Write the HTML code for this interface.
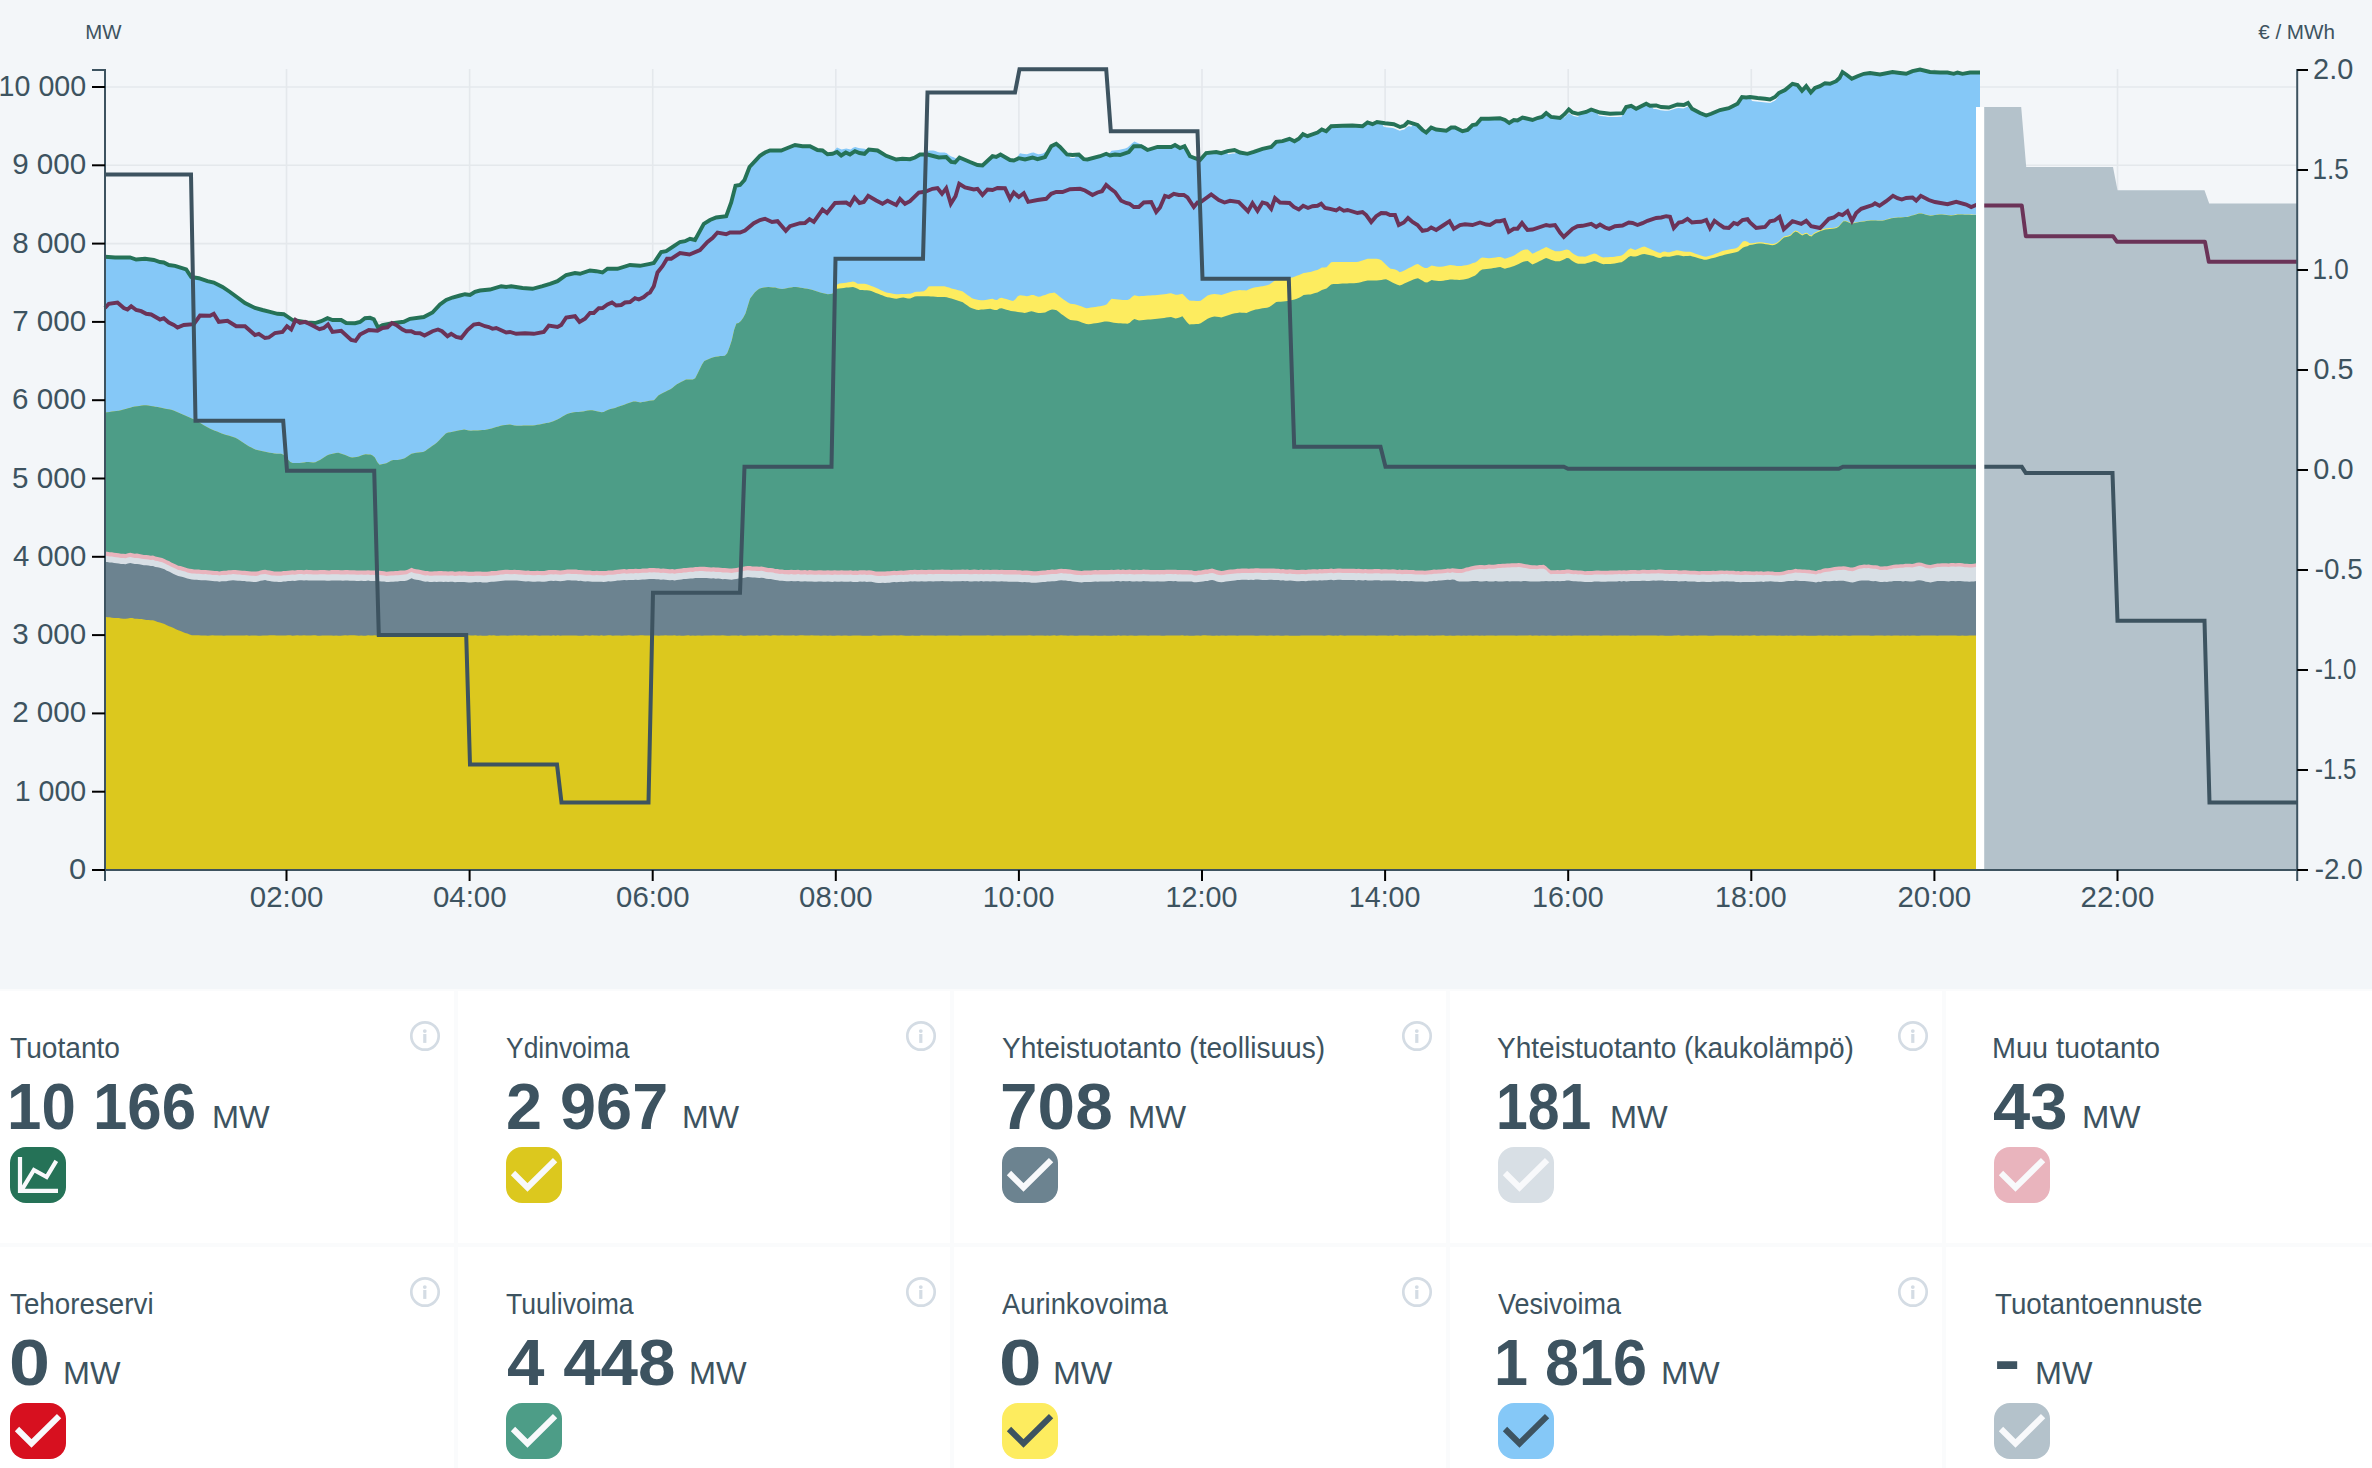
<!DOCTYPE html>
<html lang="fi"><head><meta charset="utf-8"><title>Tuotanto</title><style>
*{box-sizing:border-box;margin:0;padding:0}
html,body{width:2372px;height:1468px;overflow:hidden;background:#fff}
body{font-family:"Liberation Sans",sans-serif;color:#3d5360;position:relative}
.chart{position:absolute;left:0;top:0;display:block}
.tx{position:absolute;white-space:nowrap;line-height:1;transform-origin:0 0;color:#3d5360}
.lbl{font-size:28.7px}
.val{font-size:64.4px;font-weight:700}
.unit{font-size:31.2px}
.ico{position:absolute;width:56px;height:56px;border-radius:16px}
.ico svg,.info svg{display:block}
.info{position:absolute;width:34px;height:34px}
.vsep{position:absolute;top:989px;width:4px;height:479px;background:#fafbfc}
.hsep{position:absolute;left:0;width:2372px;height:4px;background:#fafbfc;top:1243px}
</style></head><body>
<svg class="chart" width="2372" height="989" viewBox="0 0 2372 989">
<rect width="2372" height="989" fill="#f3f6f9"/>
<g stroke="#e4e8ec" stroke-width="1.6" fill="none"><path d="M106,791.7 H2296"/><path d="M106,713.4 H2296"/><path d="M106,635.1 H2296"/><path d="M106,556.8 H2296"/><path d="M106,478.5 H2296"/><path d="M106,400.2 H2296"/><path d="M106,321.9 H2296"/><path d="M106,243.6 H2296"/><path d="M106,165.3 H2296"/><path d="M106,87 H2296"/><path d="M286.5,69 V869"/><path d="M469.6,69 V869"/><path d="M652.7,69 V869"/><path d="M835.8,69 V869"/><path d="M1018.9,69 V869"/><path d="M1202,69 V869"/><path d="M1385.1,69 V869"/><path d="M1568.2,69 V869"/><path d="M1751.3,69 V869"/><path d="M1934.4,69 V869"/><path d="M2117.5,69 V869"/></g>
<g>
<path d="M105,870L105,256.8L107.3,256.9L109.6,257.1L111.9,257.3L114.1,257.4L116.4,257.5L118.7,257.5L121,257.5L123.3,257.5L125.6,257.5L127.9,257.5L130.2,257.6L132.4,258.3L134.7,259L137,259.4L139.3,259.2L141.6,259L143.9,258.8L146.2,258.9L148.5,259.2L150.7,259.6L153,259.9L155.3,260.5L157.6,261.2L159.9,262L162.2,262.3L164.5,262.9L166.8,264L169,265L171.3,265.3L173.6,265.6L175.9,266.1L178.2,266.8L180.5,267.6L182.8,268.3L185.1,269.1L187.3,271.1L189.6,274.6L191.9,277.1L194.2,277.5L196.5,277.9L198.8,278.3L201.1,279L203.4,279.8L205.6,280.6L207.9,281.3L210.2,281.8L212.5,282.3L214.8,283L217.1,284.2L219.4,285.4L221.7,286.6L223.9,288L226.2,289.5L228.5,291L230.8,292.6L233.1,294.3L235.4,296L237.7,297.6L240,299.3L242.2,301L244.5,302.7L246.8,303.9L249.1,305.1L251.4,306.2L253.7,307.3L256,308.3L258.3,308.9L260.5,309.5L262.8,310.1L265.1,310.6L267.4,311.1L269.7,311.7L272,312.3L274.3,312.9L276.6,313.5L278.8,313.9L281.1,314L283.4,314.2L285.7,315.5L288,317L290.3,318.5L292.6,320L294.9,320.4L297.2,320.8L299.4,321.2L301.7,321.5L304,321.9L306.3,322.3L308.6,322.6L310.9,322.7L313.2,322.9L315.5,322.9L317.7,322.2L320,321.6L322.3,320.7L324.6,319.6L326.9,318.5L329.2,318.8L331.5,319.6L333.8,320L336,320L338.3,320L340.6,320L342.9,321L345.2,322.4L347.5,323L349.8,323.1L352.1,323.2L354.3,323.2L356.6,322.8L358.9,322.3L361.2,321.1L363.5,319.4L365.8,318.2L368.1,317.9L370.4,317.9L372.6,318.8L374.9,321.5L377.2,326L379.5,326.7L381.8,325.4L384.1,324.7L386.4,324.3L388.7,323.9L390.9,323.5L393.2,323.2L395.5,322.8L397.8,322.5L400.1,322.2L402.4,321.9L404.7,321.3L407,320.2L409.2,319.1L411.5,318.6L413.8,318.3L416.1,318L418.4,317.7L420.7,317.4L423,317.1L425.3,316.2L427.5,315.1L429.8,313.9L432.1,312.7L434.4,310.5L436.7,308L439,305.6L441.3,303.6L443.6,301.9L445.8,300.3L448.1,299.2L450.4,298.3L452.7,297.4L455,296.8L457.3,296.2L459.6,295.6L461.9,295L464.1,294.5L466.4,294.5L468.7,294.8L471,294.3L473.3,292.9L475.6,291.6L477.9,291L480.2,290.5L482.4,290.3L484.7,290L487,289.8L489.3,289.6L491.6,289L493.9,288.4L496.2,287.7L498.5,287.1L500.7,286.4L503,286.5L505.3,286.9L507.6,286.8L509.9,286.5L512.2,286.4L514.5,286.7L516.8,287.1L519,287.5L521.3,287.8L523.6,288.1L525.9,288.3L528.2,288.4L530.5,288.6L532.8,288.7L535.1,288.1L537.3,287.5L539.6,287L541.9,286.4L544.2,285.7L546.5,284.9L548.8,284.2L551.1,283.4L553.4,282.6L555.6,281.9L557.9,280.9L560.2,279.3L562.5,277.7L564.8,276L567.1,274.8L569.4,274.3L571.7,273.8L573.9,273.2L576.2,273.2L578.5,273.5L580.8,273.5L583.1,272.7L585.4,272L587.7,271.3L590,270.5L592.2,270.8L594.5,271L596.8,271.4L599.1,271.8L601.4,272.3L603.7,271.6L606,269.9L608.3,268.8L610.5,268.8L612.8,268.8L615.1,268.8L617.4,268.8L619.7,268.1L622,267.4L624.3,266.7L626.6,266L628.8,265.3L631.1,265.1L633.4,265.3L635.7,265.4L638,265.6L640.3,265.7L642.6,265.2L644.9,264.8L647.1,264.3L649.4,263.9L651.7,263.4L654,262.6L656.3,259.3L658.6,255.9L660.9,252.6L663.2,251.7L665.4,251.4L667.7,250.3L670,248.7L672.3,247.2L674.6,245.7L676.9,244.1L679.2,242.6L681.5,241.8L683.7,241.4L686,240.7L688.3,239.6L690.6,238.9L692.9,239.5L695.2,239.7L697.5,235.4L699.8,231.2L702,226.9L704.3,223.4L706.6,222L708.9,220.7L711.2,219.5L713.5,218.6L715.8,217.7L718.1,217.3L720.3,217L722.6,216.7L724.9,216.4L727.2,213.6L729.5,207.3L731.8,200.4L734.1,191.4L736.4,185.6L738.6,185.2L740.9,184L743.2,181.4L745.5,177.4L747.8,171.5L750.1,166.4L752.4,164L754.7,161.6L756.9,159.1L759.2,156.6L761.5,154.8L763.8,153.3L766.1,152.1L768.4,151.1L770.7,150.5L773,150.5L775.2,150.5L777.5,150.5L779.8,150.5L782.1,150.2L784.4,149.2L786.7,148.3L789,147.4L791.3,146.5L793.5,145.6L795.8,145.1L798.1,145.5L800.4,145.9L802.7,146.2L805,146.2L807.3,146.2L809.6,146.2L811.8,147.2L814.1,148.3L816.4,149.5L818.7,150.1L821,150.3L823.3,151.1L825.6,152.8L827.9,154.2L830.1,154L832.4,153.8L834.7,150.1L837,147.6L839.3,148.5L841.6,149.4L843.9,148.9L846.2,148.5L848.4,148.9L850.7,149.4L853,147.8L855.3,147.1L857.6,147.8L859.9,148.3L862.2,148.5L864.5,148.7L866.7,149.6L869,149.5L871.3,149.8L873.6,150.1L875.9,150.3L878.2,150.9L880.5,152.3L882.8,153.7L885,155L887.3,156.2L889.6,157L891.9,157.9L894.2,158.7L896.5,159.5L898.8,159.2L901.1,158.9L903.3,158.8L905.6,159L907.9,159.1L910.2,159.2L912.5,158.4L914.8,157.6L917.1,156.3L919.4,154.9L921.6,154.5L923.9,154.5L926.2,154.5L928.5,150.4L930.8,150.4L933.1,150.4L935.4,151.1L937.7,151.9L939.9,152.4L942.2,152.5L944.5,152.6L946.8,153.3L949.1,155.3L951.4,156.4L953.7,157.3L956,158.6L958.2,158.9L960.5,157.9L962.8,158.9L965.1,159.9L967.4,160.9L969.7,161.9L972,162.8L974.3,163.7L976.5,164.6L978.8,165.1L981.1,165.4L983.4,164.7L985.7,162.6L988,160.4L990.3,158.3L992.6,156.3L994.8,156.7L997.1,156.5L999.4,155.1L1001.7,155.2L1004,156.5L1006.3,157.8L1008.6,159.2L1010.9,160.1L1013.1,160.4L1015.4,159.7L1017.7,156.4L1020,153.3L1022.3,153.7L1024.6,154.1L1026.9,154.3L1029.2,153.5L1031.4,152.8L1033.7,152.6L1036,153.6L1038.3,154.3L1040.6,153.9L1042.9,153.4L1045.2,152L1047.5,151.2L1049.7,148.9L1052,145.9L1054.3,144.7L1056.6,144.1L1058.9,146L1061.2,148.3L1063.5,150.7L1065.8,153.2L1068,154.6L1070.3,157.8L1072.6,158L1074.9,157.8L1077.2,154.6L1079.5,155.2L1081.8,157.4L1084.1,159.3L1086.3,159.4L1088.6,159.2L1090.9,158.6L1093.2,158L1095.5,157.4L1097.8,156.8L1100.1,156.2L1102.4,155.3L1104.6,154.4L1106.9,154.1L1109.2,153.5L1111.5,150.7L1113.8,150.5L1116.1,150.3L1118.4,150.1L1120.7,149.6L1122.9,149L1125.2,148.4L1127.5,147.4L1129.8,145.5L1132.1,143.2L1134.4,141.4L1136.7,142.4L1139,143.4L1141.2,144.5L1143.5,145.4L1145.8,146.4L1148.1,149.8L1150.4,149.1L1152.7,148.4L1155,147.8L1157.3,147.1L1159.5,147L1161.8,147L1164.1,147L1166.4,147L1168.7,147L1171,147L1173.3,145.9L1175.6,145.3L1177.8,146.7L1180.1,148L1182.4,147.1L1184.7,146.6L1187,150.8L1189.3,154.9L1191.6,156.9L1193.9,157.8L1196.1,158.6L1198.4,159.4L1200.7,159.2L1203,156.6L1205.3,154.1L1207.6,152.9L1209.9,152.6L1212.1,152.4L1214.4,152.2L1216.7,152.1L1219,152.7L1221.3,153.2L1223.6,152.5L1225.9,151.8L1228.2,154.3L1230.4,153.9L1232.7,153.5L1235,153.4L1237.3,151.3L1239.6,152.3L1241.9,152.8L1244.2,153.2L1246.5,153.6L1248.7,153.4L1251,152.6L1253.3,151.9L1255.6,151.1L1257.9,150.3L1260.2,149.5L1262.5,148.8L1264.8,148.3L1267,147.8L1269.3,147.4L1271.6,146.6L1273.9,144.2L1276.2,141.8L1278.5,141.6L1280.8,141.4L1283.1,141L1285.3,140.2L1287.6,139.4L1289.9,139L1292.2,140.1L1294.5,141.2L1296.8,139.9L1299.1,138.4L1301.4,136L1303.6,134.5L1305.9,135.6L1308.2,136L1310.5,135.1L1312.8,134.3L1315.1,133.4L1317.4,132.5L1319.7,131L1321.9,129.6L1324.2,130.5L1326.5,131L1328.8,128.7L1331.1,126.4L1333.4,126.2L1335.7,126.1L1338,126L1340.2,125.9L1342.5,125.7L1344.8,125.7L1347.1,125.6L1349.4,125.6L1351.7,125.5L1354,125.6L1356.3,125.8L1358.5,126L1360.8,126.1L1363.1,125.8L1365.4,124.1L1367.7,122.6L1370,123.4L1372.3,124.2L1374.6,123.2L1376.8,122.1L1379.1,122.3L1381.4,122.7L1383.7,126.8L1386,127.2L1388.3,127.4L1390.6,127.7L1392.9,127.9L1395.1,128.7L1397.4,129.7L1399.7,130.7L1402,130.1L1404.3,129.4L1406.6,127.2L1408.9,126.1L1411.2,126.8L1413.4,123.7L1415.7,124.4L1418,125.5L1420.3,127.8L1422.6,130.1L1424.9,131.6L1427.2,131.6L1429.5,129.3L1431.7,127.7L1434,128.6L1436.3,129.5L1438.6,129.8L1440.9,130.1L1443.2,130.4L1445.5,130.7L1447.8,129.8L1450,128.3L1452.3,127.5L1454.6,127.5L1456.9,128.5L1459.2,129.6L1461.5,130.7L1463.8,130.9L1466.1,130.4L1468.3,129.2L1470.6,126.9L1472.9,124.9L1475.2,124.6L1477.5,123.1L1479.8,120.4L1482.1,118.8L1484.4,118.8L1486.6,118.8L1488.9,118.7L1491.2,118.6L1493.5,118.5L1495.8,118.4L1498.1,118.3L1500.4,118.4L1502.7,119.2L1504.9,120L1507.2,121.6L1509.5,122.8L1511.8,121.3L1514.1,120L1516.4,120.4L1518.7,119.8L1521,118.4L1523.2,117.7L1525.5,118.3L1527.8,118.8L1530.1,119.4L1532.4,120L1534.7,119.1L1537,118.2L1539.3,117.6L1541.5,117.1L1543.8,115.3L1546.1,113.1L1548.4,114.7L1550.7,116.6L1553,117.2L1555.3,117.5L1557.6,117.7L1559.8,118L1562.1,116.2L1564.4,117.5L1566.7,115L1569,112.9L1571.3,114.7L1573.6,115.9L1575.9,116.5L1578.1,116.9L1580.4,113.2L1582.7,112.7L1585,112.3L1587.3,111.5L1589.6,110.3L1591.9,109.7L1594.2,110.5L1596.4,111.3L1598.7,115.5L1601,116L1603.3,116.3L1605.6,116.6L1607.9,116.9L1610.2,117.1L1612.5,117.1L1614.7,117L1617,116.9L1619.3,116.8L1621.6,116.7L1623.9,110.9L1626.2,107.1L1628.5,106.4L1630.8,105.9L1633,106.8L1635.3,108.2L1637.6,108.1L1639.9,106.9L1642.2,105.8L1644.5,104.6L1646.8,104L1649.1,105.2L1651.3,105.7L1653.6,109L1655.9,108.9L1658.2,109.5L1660.5,110.2L1662.8,110.5L1665.1,110.7L1667.4,110.8L1669.6,110.6L1671.9,109.8L1674.2,109L1676.5,108.2L1678.8,108L1681.1,108.2L1683.4,108.4L1685.7,107.5L1687.9,106.4L1690.2,109.6L1692.5,109L1694.8,110.2L1697.1,111.5L1699.4,112.7L1701.7,113.7L1704,114.6L1706.2,115.5L1708.5,114.7L1710.8,113.9L1713.1,113L1715.4,112L1717.7,111L1720,110L1722.3,109.5L1724.5,109.1L1726.8,108.6L1729.1,108.1L1731.4,106.9L1733.7,105.7L1736,104.5L1738.3,102.6L1740.6,99.2L1742.8,97.1L1745.1,97.4L1747.4,97.3L1749.7,97L1752,100.9L1754.3,101.2L1756.6,101.5L1758.9,101.7L1761.1,102L1763.4,102.2L1765.7,102.5L1768,102.8L1770.3,103L1772.6,101.8L1774.9,100.7L1777.2,98.3L1779.4,92.7L1781.7,91.6L1784,90.5L1786.3,88.9L1788.6,87L1790.9,85.1L1793.2,83.9L1795.5,84.5L1797.7,85.3L1800,88.2L1802.3,90.4L1804.6,88L1806.9,87.2L1809.2,90.3L1811.5,91.7L1813.8,89.3L1816,87.6L1818.3,86.8L1820.6,85.9L1822.9,84.5L1825.2,83.3L1827.5,83.5L1829.8,83.7L1832.1,82.9L1834.3,82L1836.6,80.9L1838.9,78.6L1841.2,74.6L1843.5,72.7L1845.8,74.2L1848.1,75.9L1850.4,77.7L1852.6,78.4L1854.9,77.4L1857.2,76.4L1859.5,75.4L1861.8,74.5L1864.1,73.7L1866.4,73.4L1868.7,73.2L1870.9,73.1L1873.2,73.5L1875.5,73.8L1877.8,74.2L1880.1,74.5L1882.4,74L1884.7,73.6L1887,73.1L1889.2,72.7L1891.5,72.2L1893.8,72.2L1896.1,72.5L1898.4,72.8L1900.7,73.1L1903,73.4L1905.3,73.6L1907.5,73.2L1909.8,72.3L1912.1,71.4L1914.4,70.8L1916.7,70.3L1919,69.7L1921.3,69.8L1923.6,70.4L1925.8,71L1928.1,71.5L1930.4,72L1932.7,72.1L1935,72.2L1937.3,72.4L1939.6,72.5L1941.9,72.5L1944.1,72.5L1946.4,72.5L1948.7,72.7L1951,73.2L1953.3,73.7L1955.6,73.1L1957.9,72.6L1960.2,73.2L1962.4,73.7L1964.7,73.4L1967,73L1969.3,72.6L1971.6,72.5L1973.9,72.5L1976.2,72.5L1978.5,72.5L1980,72.5L1980,870Z" fill="#85c8f7"/>
<path d="M105,870L105,412.5L107.3,412.3L109.6,411.9L111.9,411.6L114.1,411.3L116.4,411L118.7,410.7L121,410.2L123.3,409.6L125.6,408.9L127.9,408.3L130.2,407.7L132.4,407L134.7,406.6L137,406.3L139.3,405.9L141.6,405.5L143.9,405.2L146.2,405.2L148.5,405.6L150.7,406L153,406.3L155.3,406.7L157.6,407.1L159.9,407.5L162.2,407.9L164.5,408.4L166.8,408.9L169,409.3L171.3,409.8L173.6,410.5L175.9,411.5L178.2,412.5L180.5,413.5L182.8,414.5L185.1,415.5L187.3,416.6L189.6,417.6L191.9,418.6L194.2,419.6L196.5,420.9L198.8,422.2L201.1,423.5L203.4,424.9L205.6,426.2L207.9,427.5L210.2,428.8L212.5,429.8L214.8,430.7L217.1,431.6L219.4,432.5L221.7,433.4L223.9,434.2L226.2,434.9L228.5,435.6L230.8,436.3L233.1,437L235.4,437.7L237.7,438.9L240,440.5L242.2,442L244.5,443.5L246.8,445L249.1,446.4L251.4,447.6L253.7,448.8L256,449.7L258.3,450.3L260.5,450.8L262.8,451.3L265.1,451.8L267.4,452.2L269.7,452.7L272,453.1L274.3,453.6L276.6,453.8L278.8,453.8L281.1,453.8L283.4,454.7L285.7,457.1L288,459.6L290.3,462L292.6,463L294.9,463L297.2,463L299.4,463L301.7,462.7L304,462.4L306.3,462L308.6,462.1L310.9,462.3L313.2,462.4L315.5,462.3L317.7,461.1L320,460L322.3,458.5L324.6,456.9L326.9,455.4L329.2,454.6L331.5,454L333.8,453.4L336,452.9L338.3,452.8L340.6,453.5L342.9,454.2L345.2,455.1L347.5,456L349.8,456.9L352.1,457.4L354.3,457.3L356.6,457.1L358.9,456.5L361.2,455.6L363.5,454.8L365.8,454.3L368.1,454.4L370.4,454.5L372.6,455.6L374.9,457.4L377.2,461.9L379.5,464.8L381.8,464.3L384.1,463.8L386.4,463.2L388.7,462L390.9,460.8L393.2,460L395.5,460L397.8,460L400.1,459.6L402.4,459L404.7,458.3L407,456.8L409.2,455.2L411.5,453.7L413.8,453.2L416.1,452.8L418.4,452.4L420.7,452.2L423,452.1L425.3,450.9L427.5,449.3L429.8,447.7L432.1,446.1L434.4,444.5L436.7,442.8L439,440.5L441.3,438.1L443.6,435.8L445.8,433.4L448.1,432.6L450.4,432.2L452.7,431.7L455,431.3L457.3,430.8L459.6,430.3L461.9,429.9L464.1,429.6L466.4,430L468.7,430.5L471,430.7L473.3,430.6L475.6,430.5L477.9,430.4L480.2,430.2L482.4,430.1L484.7,430L487,429.5L489.3,429L491.6,428.5L493.9,427.8L496.2,427.1L498.5,426.4L500.7,425.7L503,425.3L505.3,425L507.6,424.8L509.9,424.5L512.2,424.9L514.5,425.4L516.8,425.7L519,425.7L521.3,425.7L523.6,425.6L525.9,425.6L528.2,425.6L530.5,425.5L532.8,425.5L535.1,425.3L537.3,424.8L539.6,424.4L541.9,424L544.2,423.6L546.5,423.1L548.8,422.7L551.1,422.1L553.4,421.2L555.6,420.2L557.9,419.3L560.2,417.9L562.5,416.6L564.8,415.3L567.1,414L569.4,413.3L571.7,412.8L573.9,412.2L576.2,412L578.5,411.9L580.8,411.8L583.1,411.4L585.4,411L587.7,410.6L590,410.2L592.2,410.2L594.5,410.7L596.8,411.2L599.1,411.7L601.4,412.3L603.7,411.9L606,410.8L608.3,409.7L610.5,409.1L612.8,408.5L615.1,408L617.4,407.1L619.7,406.3L622,405.5L624.3,404.7L626.6,403.8L628.8,403L631.1,402.2L633.4,401.4L635.7,401.6L638,402.1L640.3,402.5L642.6,402.1L644.9,401.7L647.1,401.3L649.4,400.7L651.7,400.5L654,400.2L656.3,397.7L658.6,395.2L660.9,393.9L663.2,392.8L665.4,391.7L667.7,390.5L670,389.4L672.3,387.9L674.6,386.1L676.9,384.2L679.2,382.9L681.5,381.8L683.7,380.7L686,379.6L688.3,379.5L690.6,379.5L692.9,379.5L695.2,378.2L697.5,373.7L699.8,369.1L702,364.6L704.3,361L706.6,360L708.9,359L711.2,358.1L713.5,357.3L715.8,356.8L718.1,356.4L720.3,356.1L722.6,356L724.9,355.8L727.2,353.2L729.5,347.2L731.8,340.2L734.1,330.1L736.4,323.5L738.6,322.9L740.9,321.1L743.2,317.7L745.5,313.4L747.8,305.9L750.1,298.6L752.4,295.6L754.7,292.5L756.9,290.5L759.2,288.8L761.5,288L763.8,287.6L766.1,287.2L768.4,287.1L770.7,287.2L773,287.4L775.2,287.6L777.5,288.2L779.8,288.8L782.1,289.1L784.4,288.7L786.7,288.3L789,287.8L791.3,287.4L793.5,287L795.8,286.9L798.1,287.3L800.4,287.7L802.7,288L805,288.4L807.3,288.8L809.6,289.2L811.8,289.8L814.1,290.6L816.4,291.3L818.7,292.1L821,292.7L823.3,293.3L825.6,293.8L827.9,294.2L830.1,294L832.4,293.8L834.7,290.8L837,284.7L839.3,283.5L841.6,283.2L843.9,283L846.2,282.7L848.4,282.3L850.7,281.9L853,281.4L855.3,282.3L857.6,283.8L859.9,283.8L862.2,283.8L864.5,283.8L866.7,284.3L869,285.1L871.3,285.9L873.6,286.8L875.9,287.8L878.2,288.8L880.5,289.9L882.8,290.9L885,291.9L887.3,292.7L889.6,293.1L891.9,293.5L894.2,293.9L896.5,294.2L898.8,294.2L901.1,294.1L903.3,294L905.6,293.9L907.9,293.8L910.2,293.7L912.5,292.9L914.8,292.1L917.1,291.8L919.4,291.7L921.6,291.5L923.9,291.3L926.2,289.6L928.5,286.6L930.8,286.2L933.1,286.2L935.4,286.2L937.7,286.2L939.9,286.2L942.2,286.2L944.5,286.2L946.8,286.9L949.1,287.6L951.4,288.4L953.7,289L956,289.6L958.2,290.2L960.5,290.8L962.8,291.5L965.1,293.2L967.4,294.9L969.7,296.6L972,298.3L974.3,299.1L976.5,299.5L978.8,299.9L981.1,300.3L983.4,300.3L985.7,299.9L988,299.5L990.3,299.1L992.6,298.8L994.8,299.8L997.1,299.9L999.4,298.3L1001.7,297.8L1004,298.5L1006.3,299.1L1008.6,299.8L1010.9,300.4L1013.1,301.1L1015.4,299.2L1017.7,296.3L1020,295.2L1022.3,295.5L1024.6,295.8L1026.9,296.2L1029.2,295.7L1031.4,294.9L1033.7,295L1036,295.9L1038.3,296.8L1040.6,296.4L1042.9,295.6L1045.2,294.9L1047.5,294.1L1049.7,293.3L1052,292.9L1054.3,292.5L1056.6,294.1L1058.9,295.9L1061.2,297.7L1063.5,299.4L1065.8,300.9L1068,302.4L1070.3,303.8L1072.6,304.1L1074.9,304.3L1077.2,304.9L1079.5,305.7L1081.8,306.6L1084.1,307.4L1086.3,308.2L1088.6,307.9L1090.9,307.6L1093.2,307.2L1095.5,306.9L1097.8,306.6L1100.1,306.2L1102.4,305.8L1104.6,305.3L1106.9,304.2L1109.2,301.3L1111.5,298.8L1113.8,299L1116.1,299.3L1118.4,299.5L1120.7,299.8L1122.9,300L1125.2,300L1127.5,300L1129.8,298.9L1132.1,296.7L1134.4,295.2L1136.7,295.7L1139,296.2L1141.2,296.1L1143.5,295.9L1145.8,295.8L1148.1,295.6L1150.4,295.5L1152.7,295.3L1155,295.2L1157.3,295L1159.5,294.7L1161.8,294.4L1164.1,294.2L1166.4,293.9L1168.7,293.6L1171,293.3L1173.3,294L1175.6,294.8L1177.8,294.7L1180.1,294.2L1182.4,293.8L1184.7,296.1L1187,298.6L1189.3,300.5L1191.6,300.7L1193.9,300.8L1196.1,300.9L1198.4,301.1L1200.7,300.7L1203,298.9L1205.3,297.2L1207.6,295.5L1209.9,294.8L1212.1,294.2L1214.4,293.9L1216.7,294.2L1219,294.6L1221.3,295L1223.6,294.2L1225.9,293.5L1228.2,292.7L1230.4,291.9L1232.7,291.2L1235,290.8L1237.3,290.4L1239.6,290.1L1241.9,290.2L1244.2,290.3L1246.5,290.4L1248.7,289.5L1251,288.6L1253.3,287.7L1255.6,287.2L1257.9,286.9L1260.2,286.6L1262.5,286.3L1264.8,285.8L1267,285.3L1269.3,284.6L1271.6,282.9L1273.9,281.2L1276.2,279.5L1278.5,279.3L1280.8,279.2L1283.1,279L1285.3,278.8L1287.6,278.5L1289.9,278L1292.2,277.6L1294.5,276.7L1296.8,275.8L1299.1,274.9L1301.4,274L1303.6,273L1305.9,272.7L1308.2,272.3L1310.5,271.9L1312.8,271.3L1315.1,270.6L1317.4,270L1319.7,268.7L1321.9,267.5L1324.2,267.5L1326.5,267.2L1328.8,264.7L1331.1,262.2L1333.4,262L1335.7,262L1338,262L1340.2,262L1342.5,262L1344.8,262L1347.1,262L1349.4,262L1351.7,262L1354,262L1356.3,262L1358.5,261.7L1360.8,260.9L1363.1,260.2L1365.4,259.4L1367.7,258.8L1370,258.8L1372.3,258.8L1374.6,258.8L1376.8,258.8L1379.1,259.3L1381.4,260.2L1383.7,262.5L1386,264.7L1388.3,267L1390.6,268.8L1392.9,269.1L1395.1,269.4L1397.4,270.4L1399.7,272.3L1402,271.5L1404.3,270.4L1406.6,269.3L1408.9,268.1L1411.2,266.9L1413.4,265.8L1415.7,264.6L1418,264.1L1420.3,265.6L1422.6,267L1424.9,268.1L1427.2,268.1L1429.5,266.7L1431.7,265.6L1434,266L1436.3,266.4L1438.6,266.8L1440.9,266.8L1443.2,266.4L1445.5,265.9L1447.8,265.4L1450,265L1452.3,265.3L1454.6,265.6L1456.9,265.9L1459.2,266.1L1461.5,266L1463.8,265.6L1466.1,265.2L1468.3,264.7L1470.6,263.9L1472.9,263.1L1475.2,262.4L1477.5,260.9L1479.8,258.8L1482.1,257.6L1484.4,257.8L1486.6,258L1488.9,258.2L1491.2,258.1L1493.5,257.7L1495.8,257.4L1498.1,257L1500.4,256.9L1502.7,257.8L1504.9,258.7L1507.2,258L1509.5,257.2L1511.8,256.4L1514.1,255.5L1516.4,254L1518.7,252.5L1521,251L1523.2,249.9L1525.5,249.5L1527.8,249.5L1530.1,251.6L1532.4,253.7L1534.7,252.7L1537,251.6L1539.3,250.4L1541.5,249.3L1543.8,248.2L1546.1,247.1L1548.4,248.1L1550.7,249.2L1553,250.3L1555.3,251.2L1557.6,251.2L1559.8,251.2L1562.1,250.7L1564.4,250.1L1566.7,249.6L1569,250.1L1571.3,252.2L1573.6,253.9L1575.9,255.3L1578.1,256.3L1580.4,256.4L1582.7,256.6L1585,256.7L1587.3,255.9L1589.6,255.1L1591.9,254.3L1594.2,253.5L1596.4,254.1L1598.7,255.4L1601,256.7L1603.3,257.5L1605.6,257.3L1607.9,257.2L1610.2,257.1L1612.5,257L1614.7,256.7L1617,256.3L1619.3,256L1621.6,255.6L1623.9,254.1L1626.2,251.8L1628.5,249.5L1630.8,248.3L1633,249.2L1635.3,249.9L1637.6,248.9L1639.9,247.9L1642.2,246.9L1644.5,246.6L1646.8,247.5L1649.1,248.5L1651.3,249.5L1653.6,250.5L1655.9,251.5L1658.2,252.5L1660.5,253L1662.8,251.8L1665.1,251.6L1667.4,252.2L1669.6,252.2L1671.9,251.6L1674.2,250.9L1676.5,250.3L1678.8,250.4L1681.1,251L1683.4,251.6L1685.7,251.8L1687.9,251.8L1690.2,251.8L1692.5,252.6L1694.8,253.4L1697.1,254.2L1699.4,255L1701.7,255.8L1704,256.6L1706.2,256.7L1708.5,256.1L1710.8,255.4L1713.1,254.8L1715.4,253.8L1717.7,252.9L1720,252L1722.3,251.1L1724.5,250.4L1726.8,249.9L1729.1,249.5L1731.4,249.1L1733.7,248.7L1736,248.3L1738.3,247.1L1740.6,244.3L1742.8,241.6L1745.1,241L1747.4,241.7L1749.7,243.3L1752,243.2L1754.3,242.9L1756.6,242.5L1758.9,242.2L1761.1,242.2L1763.4,242.6L1765.7,242.9L1768,243.3L1770.3,243.7L1772.6,244.1L1774.9,243.6L1777.2,242.4L1779.4,240.8L1781.7,238.5L1784,236.4L1786.3,236L1788.6,235.5L1790.9,234.4L1793.2,232.1L1795.5,230.4L1797.7,231.2L1800,233.1L1802.3,234.6L1804.6,233.2L1806.9,232.8L1809.2,234.7L1811.5,235.4L1813.8,233.3L1816,231.9L1818.3,231L1820.6,230.1L1822.9,229.3L1825.2,228.5L1827.5,228.3L1829.8,228.1L1832.1,227.9L1834.3,227.7L1836.6,227.3L1838.9,225.9L1841.2,223.2L1843.5,220.8L1845.8,220.8L1848.1,221.7L1850.4,222.8L1852.6,223L1854.9,222.6L1857.2,222.2L1859.5,221.8L1861.8,221.5L1864.1,221.1L1866.4,220.8L1868.7,220.5L1870.9,220.3L1873.2,220.3L1875.5,220.4L1877.8,220.4L1880.1,220.5L1882.4,220.5L1884.7,219.9L1887,219.3L1889.2,218.6L1891.5,218L1893.8,217.7L1896.1,217.5L1898.4,217.4L1900.7,217.2L1903,217.1L1905.3,216.9L1907.5,216.7L1909.8,216L1912.1,215.4L1914.4,214.7L1916.7,214L1919,213.3L1921.3,213.3L1923.6,213.9L1925.8,214.5L1928.1,215L1930.4,215.4L1932.7,215.2L1935,214.9L1937.3,214.6L1939.6,214.3L1941.9,214.4L1944.1,214.6L1946.4,214.8L1948.7,214.9L1951,215.1L1953.3,215.1L1955.6,214.6L1957.9,214.3L1960.2,214.3L1962.4,214.4L1964.7,214.4L1967,214.5L1969.3,214.6L1971.6,214.6L1973.9,214.7L1976.2,214.7L1978.5,214.8L1980,214.8L1980,870Z" fill="#fdec5f"/>
<path d="M105,870L105,412.5L107.3,412.3L109.6,411.9L111.9,411.6L114.1,411.3L116.4,411L118.7,410.7L121,410.2L123.3,409.6L125.6,408.9L127.9,408.3L130.2,407.7L132.4,407L134.7,406.6L137,406.3L139.3,405.9L141.6,405.5L143.9,405.2L146.2,405.2L148.5,405.6L150.7,406L153,406.3L155.3,406.7L157.6,407.1L159.9,407.5L162.2,407.9L164.5,408.4L166.8,408.9L169,409.3L171.3,409.8L173.6,410.5L175.9,411.5L178.2,412.5L180.5,413.5L182.8,414.5L185.1,415.5L187.3,416.6L189.6,417.6L191.9,418.6L194.2,419.6L196.5,420.9L198.8,422.2L201.1,423.5L203.4,424.9L205.6,426.2L207.9,427.5L210.2,428.8L212.5,429.8L214.8,430.7L217.1,431.6L219.4,432.5L221.7,433.4L223.9,434.2L226.2,434.9L228.5,435.6L230.8,436.3L233.1,437L235.4,437.7L237.7,438.9L240,440.5L242.2,442L244.5,443.5L246.8,445L249.1,446.4L251.4,447.6L253.7,448.8L256,449.7L258.3,450.3L260.5,450.8L262.8,451.3L265.1,451.8L267.4,452.2L269.7,452.7L272,453.1L274.3,453.6L276.6,453.8L278.8,453.8L281.1,453.8L283.4,454.7L285.7,457.1L288,459.6L290.3,462L292.6,463L294.9,463L297.2,463L299.4,463L301.7,462.7L304,462.4L306.3,462L308.6,462.1L310.9,462.3L313.2,462.4L315.5,462.3L317.7,461.1L320,460L322.3,458.5L324.6,456.9L326.9,455.4L329.2,454.6L331.5,454L333.8,453.4L336,452.9L338.3,452.8L340.6,453.5L342.9,454.2L345.2,455.1L347.5,456L349.8,456.9L352.1,457.4L354.3,457.3L356.6,457.1L358.9,456.5L361.2,455.6L363.5,454.8L365.8,454.3L368.1,454.4L370.4,454.5L372.6,455.6L374.9,457.4L377.2,461.9L379.5,464.8L381.8,464.3L384.1,463.8L386.4,463.2L388.7,462L390.9,460.8L393.2,460L395.5,460L397.8,460L400.1,459.6L402.4,459L404.7,458.3L407,456.8L409.2,455.2L411.5,453.7L413.8,453.2L416.1,452.8L418.4,452.4L420.7,452.2L423,452.1L425.3,450.9L427.5,449.3L429.8,447.7L432.1,446.1L434.4,444.5L436.7,442.8L439,440.5L441.3,438.1L443.6,435.8L445.8,433.4L448.1,432.6L450.4,432.2L452.7,431.7L455,431.3L457.3,430.8L459.6,430.3L461.9,429.9L464.1,429.6L466.4,430L468.7,430.5L471,430.7L473.3,430.6L475.6,430.5L477.9,430.4L480.2,430.2L482.4,430.1L484.7,430L487,429.5L489.3,429L491.6,428.5L493.9,427.8L496.2,427.1L498.5,426.4L500.7,425.7L503,425.3L505.3,425L507.6,424.8L509.9,424.5L512.2,424.9L514.5,425.4L516.8,425.7L519,425.7L521.3,425.7L523.6,425.6L525.9,425.6L528.2,425.6L530.5,425.5L532.8,425.5L535.1,425.3L537.3,424.8L539.6,424.4L541.9,424L544.2,423.6L546.5,423.1L548.8,422.7L551.1,422.1L553.4,421.2L555.6,420.2L557.9,419.3L560.2,417.9L562.5,416.6L564.8,415.3L567.1,414L569.4,413.3L571.7,412.8L573.9,412.2L576.2,412L578.5,411.9L580.8,411.8L583.1,411.4L585.4,411L587.7,410.6L590,410.2L592.2,410.2L594.5,410.7L596.8,411.2L599.1,411.7L601.4,412.3L603.7,411.9L606,410.8L608.3,409.7L610.5,409.1L612.8,408.5L615.1,408L617.4,407.1L619.7,406.3L622,405.5L624.3,404.7L626.6,403.8L628.8,403L631.1,402.2L633.4,401.4L635.7,401.6L638,402.1L640.3,402.5L642.6,402.1L644.9,401.7L647.1,401.3L649.4,400.7L651.7,400.5L654,400.2L656.3,397.7L658.6,395.2L660.9,393.9L663.2,392.8L665.4,391.7L667.7,390.5L670,389.4L672.3,387.9L674.6,386.1L676.9,384.2L679.2,382.9L681.5,381.8L683.7,380.7L686,379.6L688.3,379.5L690.6,379.5L692.9,379.5L695.2,378.2L697.5,373.7L699.8,369.1L702,364.6L704.3,361L706.6,360L708.9,359L711.2,358.1L713.5,357.3L715.8,356.8L718.1,356.4L720.3,356.1L722.6,356L724.9,355.8L727.2,353.2L729.5,347.2L731.8,340.2L734.1,330.1L736.4,323.5L738.6,322.9L740.9,321.1L743.2,317.7L745.5,313.4L747.8,305.9L750.1,298.6L752.4,295.6L754.7,292.5L756.9,290.5L759.2,288.8L761.5,288L763.8,287.6L766.1,287.2L768.4,287.1L770.7,287.2L773,287.4L775.2,287.6L777.5,288.2L779.8,288.8L782.1,289.1L784.4,288.7L786.7,288.3L789,287.8L791.3,287.4L793.5,287L795.8,286.9L798.1,287.3L800.4,287.7L802.7,288L805,288.4L807.3,288.8L809.6,289.2L811.8,289.8L814.1,290.6L816.4,291.3L818.7,292.1L821,292.7L823.3,293.3L825.6,293.8L827.9,294.2L830.1,294L832.4,293.8L834.7,290.8L837,288.7L839.3,288.4L841.6,288.2L843.9,287.9L846.2,287.6L848.4,287.4L850.7,287.2L853,287.1L855.3,287.7L857.6,288.8L859.9,289.9L862.2,290.1L864.5,290.2L866.7,290.3L869,290.5L871.3,291L873.6,291.9L875.9,292.9L878.2,293.8L880.5,294.7L882.8,295.6L885,296.5L887.3,297.2L889.6,297.6L891.9,298L894.2,298.4L896.5,298.7L898.8,298.2L901.1,297.8L903.3,297.6L905.6,298L907.9,298.4L910.2,298.6L912.5,297.5L914.8,296.4L917.1,296.2L919.4,296.2L921.6,296.2L923.9,296.2L926.2,296.2L928.5,296.3L930.8,296.5L933.1,296.6L935.4,296.8L937.7,296.9L939.9,297L942.2,297L944.5,297L946.8,297.2L949.1,297.9L951.4,298.6L953.7,299.3L956,300L958.2,300.7L960.5,301.4L962.8,302.2L965.1,303.9L967.4,305.6L969.7,307.3L972,308.2L974.3,308.9L976.5,309.7L978.8,309.9L981.1,309.6L983.4,309.4L985.7,309.2L988,309L990.3,308.8L992.6,309.5L994.8,310.1L997.1,310L999.4,308.6L1001.7,308.3L1004,309L1006.3,309.7L1008.6,310.3L1010.9,310.9L1013.1,311.2L1015.4,311.5L1017.7,311.9L1020,312.2L1022.3,312.6L1024.6,312.9L1026.9,312.5L1029.2,311.8L1031.4,311.3L1033.7,311.8L1036,312.4L1038.3,312.9L1040.6,312.9L1042.9,312.7L1045.2,312.4L1047.5,311.3L1049.7,310.2L1052,309.6L1054.3,309.8L1056.6,310.3L1058.9,312.1L1061.2,313.9L1063.5,315.6L1065.8,317.2L1068,318.7L1070.3,320L1072.6,320.2L1074.9,320.4L1077.2,320.8L1079.5,321.6L1081.8,322.5L1084.1,323.3L1086.3,324.1L1088.6,324.3L1090.9,324L1093.2,323.6L1095.5,323.2L1097.8,322.9L1100.1,322.5L1102.4,322L1104.6,321.6L1106.9,321.4L1109.2,321.8L1111.5,322.3L1113.8,322.8L1116.1,323.1L1118.4,323.2L1120.7,323.3L1122.9,323.4L1125.2,323.6L1127.5,323.7L1129.8,322.7L1132.1,320.4L1134.4,319L1136.7,319.8L1139,320.5L1141.2,320.3L1143.5,320.1L1145.8,319.8L1148.1,319.6L1150.4,319.4L1152.7,319.2L1155,319L1157.3,318.8L1159.5,318.5L1161.8,318.2L1164.1,317.9L1166.4,317.6L1168.7,317.3L1171,317L1173.3,317.7L1175.6,318.5L1177.8,318.1L1180.1,317.2L1182.4,316.3L1184.7,319.2L1187,322.2L1189.3,324.5L1191.6,324.3L1193.9,324.2L1196.1,324.1L1198.4,323.9L1200.7,323.3L1203,321.8L1205.3,320.2L1207.6,318.7L1209.9,317.8L1212.1,316.9L1214.4,316.4L1216.7,316.7L1219,317.1L1221.3,317.5L1223.6,316.7L1225.9,316L1228.2,315.2L1230.4,314.4L1232.7,313.7L1235,313.3L1237.3,312.9L1239.6,312.6L1241.9,312.7L1244.2,312.8L1246.5,312.9L1248.7,312L1251,311.1L1253.3,310.2L1255.6,309.6L1257.9,309.2L1260.2,308.7L1262.5,308.3L1264.8,308L1267,307.7L1269.3,307.1L1271.6,305.4L1273.9,303.7L1276.2,302L1278.5,301.8L1280.8,301.7L1283.1,301.5L1285.3,301.3L1287.6,301L1289.9,300.5L1292.2,300L1294.5,299.5L1296.8,298.7L1299.1,297.8L1301.4,296.4L1303.6,295.1L1305.9,294.8L1308.2,294.6L1310.5,294.4L1312.8,293.8L1315.1,293.1L1317.4,292.5L1319.7,291.2L1321.9,289.9L1324.2,289.3L1326.5,288.5L1328.8,286.4L1331.1,284.4L1333.4,284.1L1335.7,284L1338,283.9L1340.2,283.7L1342.5,283.6L1344.8,283.5L1347.1,283.4L1349.4,283.3L1351.7,283.2L1354,283.2L1356.3,283.1L1358.5,282.7L1360.8,282.2L1363.1,281.6L1365.4,281L1367.7,280.5L1370,280.5L1372.3,280.5L1374.6,280.5L1376.8,280.5L1379.1,280.3L1381.4,279.9L1383.7,279.6L1386,279.3L1388.3,280.3L1390.6,281.6L1392.9,282.8L1395.1,283.8L1397.4,284.7L1399.7,285.6L1402,284.7L1404.3,283.5L1406.6,282.4L1408.9,281.5L1411.2,280.5L1413.4,279.6L1415.7,278.7L1418,278.3L1420.3,279.5L1422.6,280.8L1424.9,282.3L1427.2,282.6L1429.5,281.2L1431.7,280.1L1434,280.4L1436.3,280.7L1438.6,281.1L1440.9,281.1L1443.2,280.7L1445.5,280.3L1447.8,279.9L1450,279.5L1452.3,279.6L1454.6,279.7L1456.9,279.8L1459.2,280L1461.5,279.8L1463.8,279.4L1466.1,279L1468.3,278.4L1470.6,277.4L1472.9,276.4L1475.2,275.4L1477.5,273.6L1479.8,271.1L1482.1,269.4L1484.4,269.2L1486.6,269L1488.9,268.8L1491.2,268.5L1493.5,268.1L1495.8,267.7L1498.1,267.3L1500.4,267.1L1502.7,267.9L1504.9,268.7L1507.2,268.1L1509.5,267.5L1511.8,266.8L1514.1,266.1L1516.4,265L1518.7,263.9L1521,262.7L1523.2,261.8L1525.5,261.2L1527.8,261L1530.1,262.7L1532.4,264.4L1534.7,263.5L1537,262.4L1539.3,261.3L1541.5,260.2L1543.8,259.1L1546.1,258.1L1548.4,258.8L1550.7,259.7L1553,260.5L1555.3,261.2L1557.6,261.2L1559.8,261.2L1562.1,260.2L1564.4,259.2L1566.7,258.1L1569,258.3L1571.3,260.2L1573.6,261.8L1575.9,262.9L1578.1,263.8L1580.4,263.8L1582.7,263.8L1585,263.7L1587.3,263.1L1589.6,262.4L1591.9,261.7L1594.2,261L1596.4,261.4L1598.7,262.5L1601,263.6L1603.3,264.2L1605.6,264.1L1607.9,264L1610.2,263.9L1612.5,263.8L1614.7,263.4L1617,263L1619.3,262.6L1621.6,262.2L1623.9,260.8L1626.2,258.9L1628.5,257L1630.8,255.9L1633,256.4L1635.3,256.6L1637.6,255.9L1639.9,255.1L1642.2,254.3L1644.5,253.9L1646.8,254.4L1649.1,255L1651.3,255.5L1653.6,256.1L1655.9,256.9L1658.2,257.7L1660.5,258L1662.8,256.8L1665.1,256.4L1667.4,256.8L1669.6,256.8L1671.9,256.3L1674.2,255.7L1676.5,255.2L1678.8,255.3L1681.1,255.7L1683.4,256.2L1685.7,256.1L1687.9,255.9L1690.2,255.8L1692.5,256.5L1694.8,257.1L1697.1,257.8L1699.4,258.4L1701.7,259.1L1704,259.7L1706.2,259.7L1708.5,259.2L1710.8,258.6L1713.1,258.1L1715.4,257.4L1717.7,256.8L1720,256.1L1722.3,255.4L1724.5,254.8L1726.8,254.3L1729.1,253.8L1731.4,253.3L1733.7,252.8L1736,252.3L1738.3,251.4L1740.6,249.6L1742.8,247.7L1745.1,246.7L1747.4,246.3L1749.7,245.1L1752,244.7L1754.3,244.2L1756.6,243.8L1758.9,243.4L1761.1,243.4L1763.4,243.8L1765.7,244.2L1768,244.6L1770.3,244.9L1772.6,245.3L1774.9,244.8L1777.2,243.5L1779.4,241.8L1781.7,239.5L1784,237.4L1786.3,237L1788.6,236.5L1790.9,235.4L1793.2,233.1L1795.5,231.4L1797.7,232.2L1800,234.1L1802.3,235.6L1804.6,234.2L1806.9,233.8L1809.2,235.7L1811.5,236.4L1813.8,234.3L1816,232.9L1818.3,232L1820.6,231.1L1822.9,230.3L1825.2,229.5L1827.5,229.2L1829.8,229L1832.1,228.7L1834.3,228.5L1836.6,228L1838.9,226.6L1841.2,223.8L1843.5,221.2L1845.8,221.2L1848.1,222.2L1850.4,223.3L1852.6,223.5L1854.9,223L1857.2,222.6L1859.5,222.1L1861.8,221.7L1864.1,221.4L1866.4,221L1868.7,220.7L1870.9,220.5L1873.2,220.6L1875.5,220.6L1877.8,220.7L1880.1,220.7L1882.4,220.7L1884.7,220.2L1887,219.5L1889.2,218.9L1891.5,218.3L1893.8,217.9L1896.1,217.8L1898.4,217.6L1900.7,217.5L1903,217.3L1905.3,217.1L1907.5,217L1909.8,216.3L1912.1,215.6L1914.4,214.9L1916.7,214.2L1919,213.6L1921.3,213.6L1923.6,214.1L1925.8,214.7L1928.1,215.3L1930.4,215.7L1932.7,215.4L1935,215.1L1937.3,214.8L1939.6,214.6L1941.9,214.6L1944.1,214.8L1946.4,215L1948.7,215.2L1951,215.4L1953.3,215.3L1955.6,214.9L1957.9,214.5L1960.2,214.6L1962.4,214.6L1964.7,214.7L1967,214.8L1969.3,214.8L1971.6,214.9L1973.9,214.9L1976.2,215L1978.5,215L1980,215L1980,870Z" fill="#4d9d87"/>
<path d="M105,870L105,551.6L107.3,551.8L109.6,552.3L111.9,552.3L114.1,552.8L116.4,553L118.7,553.2L121,553.7L123.3,553.8L125.6,554L127.9,553.3L130.2,552.8L132.4,553.2L134.7,553.7L137,553.6L139.3,554L141.6,554.5L143.9,554.9L146.2,555L148.5,555.2L150.7,555.8L153,555.6L155.3,556.6L157.6,556.9L159.9,557.5L162.2,558.1L164.5,559L166.8,560.3L169,561.1L171.3,562.5L173.6,563.6L175.9,564.6L178.2,565.7L180.5,566L182.8,566.7L185.1,567.4L187.3,568.2L189.6,568.7L191.9,569.1L194.2,569.4L196.5,569.5L198.8,569.5L201.1,569.9L203.4,570L205.6,569.9L207.9,570.2L210.2,570.4L212.5,570.8L214.8,570.9L217.1,570.9L219.4,571.4L221.7,570.9L223.9,570.8L226.2,570.8L228.5,570.3L230.8,570.3L233.1,569.9L235.4,570.1L237.7,570.3L240,570.4L242.2,570.8L244.5,570.7L246.8,571.1L249.1,571.2L251.4,571.4L253.7,571.6L256,571.6L258.3,571.2L260.5,570.4L262.8,570L265.1,569.7L267.4,570.3L269.7,570.6L272,571.1L274.3,571.4L276.6,571.5L278.8,571.5L281.1,571.5L283.4,571L285.7,571L288,570.7L290.3,570.5L292.6,570.3L294.9,570.5L297.2,570L299.4,569.9L301.7,569.9L304,570.2L306.3,569.8L308.6,570L310.9,570L313.2,570.2L315.5,570.2L317.7,570.3L320,570L322.3,570.1L324.6,570L326.9,570.3L329.2,570.4L331.5,570L333.8,570L336,570.1L338.3,570.1L340.6,570.2L342.9,570.3L345.2,570.1L347.5,570L349.8,570.2L352.1,570.2L354.3,570.3L356.6,570.6L358.9,570.4L361.2,570.4L363.5,570.4L365.8,570.5L368.1,570.2L370.4,570.6L372.6,570.6L374.9,570.6L377.2,570.8L379.5,570.8L381.8,571.1L384.1,571.2L386.4,571.7L388.7,571.4L390.9,571.3L393.2,571.2L395.5,571L397.8,570.9L400.1,570.6L402.4,570.5L404.7,570.4L407,569.9L409.2,568.9L411.5,567.8L413.8,568.7L416.1,569.2L418.4,569.5L420.7,570.1L423,570.6L425.3,571.1L427.5,571L429.8,571.4L432.1,571.5L434.4,571.3L436.7,571.3L439,571.1L441.3,571.1L443.6,571.3L445.8,571.2L448.1,571.5L450.4,571.2L452.7,571.2L455,571.7L457.3,571.5L459.6,571.3L461.9,571.5L464.1,571.3L466.4,571.5L468.7,571.8L471,571.7L473.3,571.7L475.6,571.5L477.9,571.6L480.2,571.5L482.4,571.8L484.7,571.7L487,571.8L489.3,571.4L491.6,571.1L493.9,571.1L496.2,571L498.5,570.6L500.7,570.3L503,570.1L505.3,569.8L507.6,569.7L509.9,569.9L512.2,569.9L514.5,569.8L516.8,569.9L519,570.1L521.3,570.2L523.6,570.5L525.9,570.7L528.2,570.5L530.5,570.9L532.8,571L535.1,571.1L537.3,570.8L539.6,570.9L541.9,570.9L544.2,571L546.5,570.6L548.8,570.1L551.1,570L553.4,570.1L555.6,570L557.9,570.3L560.2,570.5L562.5,570.2L564.8,570L567.1,569.5L569.4,569.5L571.7,569.6L573.9,569.6L576.2,569.6L578.5,570L580.8,569.9L583.1,570.3L585.4,570.5L587.7,570.4L590,570.5L592.2,570.9L594.5,571L596.8,570.8L599.1,571L601.4,570.9L603.7,571.1L606,570.9L608.3,570.4L610.5,570.5L612.8,570.4L615.1,570.1L617.4,569.7L619.7,569.6L622,569.3L624.3,569L626.6,569.4L628.8,569.1L631.1,569L633.4,569.1L635.7,568.8L638,569L640.3,568.9L642.6,568.5L644.9,568.4L647.1,568.4L649.4,567.9L651.7,568.1L654,568L656.3,568.2L658.6,568.2L660.9,568.7L663.2,568.5L665.4,568.7L667.7,568.9L670,569.2L672.3,569L674.6,569.4L676.9,569L679.2,568.8L681.5,568.6L683.7,568.1L686,568.1L688.3,567.7L690.6,567.4L692.9,567.6L695.2,567L697.5,566.9L699.8,566.8L702,566.8L704.3,566.8L706.6,567.1L708.9,567.2L711.2,567.4L713.5,567.2L715.8,567.6L718.1,567.5L720.3,567.7L722.6,568.1L724.9,568L727.2,568.2L729.5,568.4L731.8,568.6L734.1,568.2L736.4,567.9L738.6,567.4L740.9,567.1L743.2,566.8L745.5,566.3L747.8,566L750.1,566.1L752.4,566.4L754.7,566.4L756.9,566.6L759.2,566.8L761.5,566.5L763.8,567L766.1,567.5L768.4,567.9L770.7,567.9L773,568.3L775.2,568.9L777.5,569.1L779.8,569.5L782.1,569.5L784.4,569.9L786.7,570L789,570L791.3,569.7L793.5,570L795.8,570L798.1,569.8L800.4,570.2L802.7,570.3L805,570L807.3,570.4L809.6,570.1L811.8,570.2L814.1,570.5L816.4,570.5L818.7,570.2L821,570.3L823.3,570.4L825.6,570.4L827.9,570.3L830.1,570.4L832.4,570.6L834.7,570.2L837,570.5L839.3,570.4L841.6,570.2L843.9,570.4L846.2,570.5L848.4,570.5L850.7,570.2L853,570.7L855.3,570.6L857.6,570.7L859.9,570.3L862.2,570.3L864.5,570.2L866.7,570.6L869,570.3L871.3,570.4L873.6,570.9L875.9,571.4L878.2,571.6L880.5,571.6L882.8,571.4L885,571.6L887.3,571.3L889.6,571.3L891.9,570.9L894.2,570.7L896.5,570.9L898.8,570.7L901.1,570.4L903.3,570.7L905.6,570.4L907.9,570.3L910.2,569.9L912.5,570.1L914.8,569.7L917.1,570.1L919.4,569.9L921.6,569.8L923.9,569.9L926.2,570.1L928.5,569.8L930.8,569.7L933.1,569.9L935.4,569.8L937.7,569.7L939.9,569.7L942.2,569.6L944.5,569.7L946.8,569.8L949.1,569.7L951.4,570L953.7,569.7L956,569.8L958.2,569.7L960.5,569.7L962.8,569.6L965.1,569.7L967.4,569.6L969.7,569.9L972,569.8L974.3,569.6L976.5,569.8L978.8,570L981.1,569.6L983.4,569.9L985.7,569.7L988,569.7L990.3,569.9L992.6,569.7L994.8,569.7L997.1,569.8L999.4,569.9L1001.7,569.7L1004,570L1006.3,570.1L1008.6,570.1L1010.9,570.1L1013.1,570.1L1015.4,570.1L1017.7,570.2L1020,570.3L1022.3,570.7L1024.6,570.6L1026.9,570.6L1029.2,570.7L1031.4,571.1L1033.7,571.2L1036,571.2L1038.3,571L1040.6,570.8L1042.9,570.6L1045.2,570.4L1047.5,570L1049.7,569.9L1052,569.6L1054.3,569.7L1056.6,569.5L1058.9,569.1L1061.2,568.7L1063.5,569.1L1065.8,569L1068,569.3L1070.3,569.5L1072.6,569.9L1074.9,570.3L1077.2,570.6L1079.5,570.7L1081.8,570.9L1084.1,570.5L1086.3,570.6L1088.6,570.4L1090.9,570.5L1093.2,570.2L1095.5,570.1L1097.8,570.2L1100.1,570L1102.4,570.1L1104.6,570L1106.9,570L1109.2,569.9L1111.5,569.8L1113.8,569.9L1116.1,569.7L1118.4,569.6L1120.7,570L1122.9,569.6L1125.2,569.9L1127.5,569.8L1129.8,569.5L1132.1,569.9L1134.4,570L1136.7,569.8L1139,569.9L1141.2,570L1143.5,569.6L1145.8,569.8L1148.1,569.8L1150.4,570L1152.7,570L1155,570L1157.3,569.9L1159.5,570.1L1161.8,570L1164.1,570L1166.4,569.7L1168.7,569.7L1171,569.7L1173.3,569.8L1175.6,569.7L1177.8,570.1L1180.1,570L1182.4,570L1184.7,570L1187,570L1189.3,570.2L1191.6,570.2L1193.9,570.9L1196.1,571L1198.4,570.6L1200.7,570.4L1203,570.1L1205.3,569.5L1207.6,569.5L1209.9,568.9L1212.1,568.5L1214.4,569.2L1216.7,570.1L1219,570.5L1221.3,570.9L1223.6,570.7L1225.9,570.2L1228.2,569.8L1230.4,569.6L1232.7,569.4L1235,569.2L1237.3,568.8L1239.6,568.8L1241.9,568.5L1244.2,568.5L1246.5,568.5L1248.7,568.7L1251,568.5L1253.3,568.6L1255.6,568.3L1257.9,568.3L1260.2,568.4L1262.5,568.6L1264.8,568.6L1267,568.6L1269.3,568.4L1271.6,568.5L1273.9,568.6L1276.2,568.7L1278.5,568.7L1280.8,569.2L1283.1,569L1285.3,569.5L1287.6,569.6L1289.9,569.2L1292.2,569.5L1294.5,569.8L1296.8,570L1299.1,569.9L1301.4,569.8L1303.6,569.7L1305.9,569.9L1308.2,569.5L1310.5,569.6L1312.8,569.2L1315.1,569.3L1317.4,569.5L1319.7,568.9L1321.9,569.2L1324.2,568.9L1326.5,569L1328.8,568.9L1331.1,568.6L1333.4,568.9L1335.7,568.7L1338,568.5L1340.2,568.6L1342.5,568.8L1344.8,568.8L1347.1,568.8L1349.4,568.7L1351.7,568.8L1354,568.8L1356.3,569.1L1358.5,568.7L1360.8,569.1L1363.1,569.2L1365.4,568.9L1367.7,569.3L1370,569.2L1372.3,569.3L1374.6,569L1376.8,569.1L1379.1,569.1L1381.4,569.5L1383.7,569.3L1386,569.3L1388.3,569.4L1390.6,569.4L1392.9,569.3L1395.1,569.4L1397.4,569.9L1399.7,569.6L1402,570L1404.3,569.7L1406.6,569.8L1408.9,570L1411.2,569.9L1413.4,570.1L1415.7,570.4L1418,570.4L1420.3,570.5L1422.6,570.4L1424.9,570.7L1427.2,570.5L1429.5,570.2L1431.7,570.1L1434,569.6L1436.3,569.7L1438.6,569.4L1440.9,569.4L1443.2,569.2L1445.5,568.9L1447.8,568.6L1450,568.8L1452.3,568.3L1454.6,568.6L1456.9,568.8L1459.2,569L1461.5,568.9L1463.8,568.5L1466.1,567.6L1468.3,567.2L1470.6,566.4L1472.9,566L1475.2,565.4L1477.5,565.2L1479.8,565L1482.1,565L1484.4,565.2L1486.6,564.9L1488.9,564.6L1491.2,564.8L1493.5,564.8L1495.8,564.4L1498.1,564.1L1500.4,564L1502.7,563.8L1504.9,563.8L1507.2,563.5L1509.5,563.4L1511.8,563.3L1514.1,563.3L1516.4,563.3L1518.7,563.1L1521,563.3L1523.2,563.7L1525.5,564.2L1527.8,564.5L1530.1,564.9L1532.4,565.2L1534.7,565.2L1537,565.4L1539.3,564.9L1541.5,564.9L1543.8,564.8L1546.1,566.2L1548.4,568.5L1550.7,570.3L1553,570.2L1555.3,570.2L1557.6,570.1L1559.8,570.3L1562.1,570.1L1564.4,570L1566.7,569.5L1569,569.6L1571.3,570.1L1573.6,570.3L1575.9,570.3L1578.1,570.5L1580.4,570.4L1582.7,570.7L1585,571.2L1587.3,571.1L1589.6,571.1L1591.9,571.1L1594.2,570.7L1596.4,570.6L1598.7,570.6L1601,570.7L1603.3,570.7L1605.6,570.8L1607.9,570.7L1610.2,570.6L1612.5,570.6L1614.7,570.4L1617,570.5L1619.3,570.2L1621.6,570.5L1623.9,570.2L1626.2,570.5L1628.5,570.3L1630.8,570.1L1633,570L1635.3,570L1637.6,570.2L1639.9,570.2L1642.2,569.8L1644.5,569.8L1646.8,570L1649.1,570L1651.3,569.8L1653.6,569.7L1655.9,569.9L1658.2,569.5L1660.5,569.6L1662.8,569.7L1665.1,570L1667.4,569.9L1669.6,570.1L1671.9,570L1674.2,570L1676.5,570.1L1678.8,570.5L1681.1,570.5L1683.4,570.3L1685.7,570.3L1687.9,570.6L1690.2,570.8L1692.5,570.7L1694.8,570.7L1697.1,571L1699.4,571.2L1701.7,570.9L1704,570.9L1706.2,571.1L1708.5,571L1710.8,571.1L1713.1,570.7L1715.4,571L1717.7,570.8L1720,570.6L1722.3,570.4L1724.5,570.7L1726.8,570.5L1729.1,570.8L1731.4,570.7L1733.7,570.8L1736,571.2L1738.3,571.1L1740.6,571.5L1742.8,571.3L1745.1,571.1L1747.4,571.2L1749.7,571.3L1752,571.5L1754.3,571.6L1756.6,571.2L1758.9,571.4L1761.1,571.3L1763.4,571.7L1765.7,571.4L1768,571.3L1770.3,571.4L1772.6,571.6L1774.9,571.9L1777.2,571.9L1779.4,571.9L1781.7,571.8L1784,571.3L1786.3,570.6L1788.6,570.1L1790.9,570.1L1793.2,569.6L1795.5,568.8L1797.7,569.3L1800,569.3L1802.3,569.4L1804.6,569.6L1806.9,569.7L1809.2,569.8L1811.5,570.2L1813.8,570.5L1816,570.9L1818.3,569.9L1820.6,569.8L1822.9,568.8L1825.2,568.3L1827.5,568.2L1829.8,567.9L1832.1,567.4L1834.3,566.9L1836.6,566.8L1838.9,566.4L1841.2,566.4L1843.5,566.2L1845.8,566.5L1848.1,567.1L1850.4,567.4L1852.6,567.6L1854.9,566.9L1857.2,565.9L1859.5,565.2L1861.8,564.9L1864.1,564.6L1866.4,564.7L1868.7,564.5L1870.9,565L1873.2,565.3L1875.5,565.3L1877.8,565.6L1880.1,566.4L1882.4,566.4L1884.7,566.2L1887,566.3L1889.2,565.8L1891.5,565.3L1893.8,564.7L1896.1,564.6L1898.4,564.5L1900.7,564.3L1903,564.3L1905.3,563.7L1907.5,563.7L1909.8,563.7L1912.1,563.9L1914.4,563.5L1916.7,562.8L1919,562.4L1921.3,562.7L1923.6,563.4L1925.8,564.3L1928.1,564.7L1930.4,565.1L1932.7,564.6L1935,564.1L1937.3,563.6L1939.6,563.5L1941.9,563.3L1944.1,563.3L1946.4,563.3L1948.7,563.4L1951,563L1953.3,563.1L1955.6,563.3L1957.9,563.1L1960.2,563.1L1962.4,563.3L1964.7,563.7L1967,563.7L1969.3,564L1971.6,563.9L1973.9,563.8L1976.2,563.3L1978.5,563.2L1980,563.3L1980,870Z" fill="#e9b4bd"/>
<path d="M105,870L105,555.8L107.3,556L109.6,556.5L111.9,556.5L114.1,557L116.4,557.2L118.7,557.4L121,557.9L123.3,558L125.6,558.2L127.9,557.5L130.2,557L132.4,557.4L134.7,557.9L137,557.9L139.3,558.2L141.6,558.7L143.9,559.1L146.2,559.2L148.5,559.4L150.7,560L153,559.8L155.3,560.8L157.6,561.1L159.9,561.7L162.2,562.3L164.5,563.2L166.8,564.5L169,565.4L171.3,566.7L173.6,567.8L175.9,568.8L178.2,569.9L180.5,570.3L182.8,570.9L185.1,571.6L187.3,572.4L189.6,572.9L191.9,573.4L194.2,573.6L196.5,573.7L198.8,573.7L201.1,574.1L203.4,574.2L205.6,574.1L207.9,574.5L210.2,574.6L212.5,575L214.8,575.1L217.1,575.1L219.4,575.6L221.7,575.1L223.9,575.1L226.2,575L228.5,574.5L230.8,574.5L233.1,574.1L235.4,574.3L237.7,574.5L240,574.6L242.2,575L244.5,574.9L246.8,575.3L249.1,575.5L251.4,575.7L253.7,575.8L256,575.9L258.3,575.4L260.5,574.6L262.8,574.2L265.1,573.9L267.4,574.6L269.7,574.9L272,575.4L274.3,575.6L276.6,575.7L278.8,575.8L281.1,575.7L283.4,575.2L285.7,575.3L288,574.9L290.3,574.7L292.6,574.5L294.9,574.7L297.2,574.2L299.4,574.1L301.7,574.1L304,574.4L306.3,574L308.6,574.2L310.9,574.3L313.2,574.5L315.5,574.4L317.7,574.5L320,574.2L322.3,574.3L324.6,574.3L326.9,574.6L329.2,574.6L331.5,574.2L333.8,574.3L336,574.3L338.3,574.3L340.6,574.5L342.9,574.5L345.2,574.4L347.5,574.3L349.8,574.5L352.1,574.5L354.3,574.6L356.6,574.8L358.9,574.7L361.2,574.6L363.5,574.7L365.8,574.7L368.1,574.4L370.4,574.9L372.6,574.8L374.9,574.9L377.2,575.1L379.5,575.1L381.8,575.3L384.1,575.4L386.4,575.9L388.7,575.7L390.9,575.5L393.2,575.4L395.5,575.2L397.8,575.2L400.1,574.9L402.4,574.7L404.7,574.6L407,574.2L409.2,573.1L411.5,572L413.8,573L416.1,573.4L418.4,573.7L420.7,574.3L423,574.9L425.3,575.4L427.5,575.3L429.8,575.7L432.1,575.8L434.4,575.5L436.7,575.5L439,575.4L441.3,575.4L443.6,575.5L445.8,575.5L448.1,575.8L450.4,575.5L452.7,575.4L455,575.9L457.3,575.7L459.6,575.6L461.9,575.8L464.1,575.5L466.4,575.8L468.7,576.1L471,576L473.3,575.9L475.6,575.8L477.9,575.8L480.2,575.7L482.4,576.1L484.7,576L487,576.1L489.3,575.7L491.6,575.4L493.9,575.4L496.2,575.2L498.5,574.9L500.7,574.6L503,574.4L505.3,574.1L507.6,573.9L509.9,574.2L512.2,574.2L514.5,574.1L516.8,574.2L519,574.4L521.3,574.5L523.6,574.8L525.9,575L528.2,574.8L530.5,575.1L532.8,575.3L535.1,575.3L537.3,575.1L539.6,575.1L541.9,575.2L544.2,575.3L546.5,574.9L548.8,574.4L551.1,574.2L553.4,574.4L555.6,574.3L557.9,574.5L560.2,574.7L562.5,574.5L564.8,574.2L567.1,573.8L569.4,573.7L571.7,573.9L573.9,573.9L576.2,573.9L578.5,574.3L580.8,574.2L583.1,574.6L585.4,574.8L587.7,574.7L590,574.8L592.2,575.2L594.5,575.3L596.8,575.1L599.1,575.2L601.4,575.2L603.7,575.4L606,575.2L608.3,574.7L610.5,574.8L612.8,574.7L615.1,574.4L617.4,574L619.7,573.9L622,573.5L624.3,573.3L626.6,573.7L628.8,573.4L631.1,573.3L633.4,573.4L635.7,573.1L638,573.2L640.3,573.1L642.6,572.8L644.9,572.7L647.1,572.7L649.4,572.2L651.7,572.4L654,572.3L656.3,572.5L658.6,572.5L660.9,573L663.2,572.8L665.4,573L667.7,573.2L670,573.5L672.3,573.3L674.6,573.7L676.9,573.3L679.2,573.1L681.5,572.9L683.7,572.4L686,572.4L688.3,572L690.6,571.7L692.9,571.9L695.2,571.3L697.5,571.2L699.8,571.1L702,571.1L704.3,571.2L706.6,571.4L708.9,571.5L711.2,571.8L713.5,571.5L715.8,571.9L718.1,571.9L720.3,572L722.6,572.4L724.9,572.4L727.2,572.5L729.5,572.7L731.8,572.9L734.1,572.5L736.4,572.2L738.6,571.7L740.9,571.4L743.2,571.1L745.5,570.6L747.8,570.3L750.1,570.4L752.4,570.7L754.7,570.7L756.9,570.9L759.2,571.1L761.5,570.8L763.8,571.3L766.1,571.9L768.4,572.2L770.7,572.2L773,572.6L775.2,573.2L777.5,573.4L779.8,573.9L782.1,573.8L784.4,574.2L786.7,574.3L789,574.4L791.3,574L793.5,574.4L795.8,574.4L798.1,574.1L800.4,574.6L802.7,574.6L805,574.3L807.3,574.7L809.6,574.5L811.8,574.5L814.1,574.8L816.4,574.8L818.7,574.5L821,574.7L823.3,574.8L825.6,574.7L827.9,574.6L830.1,574.7L832.4,574.9L834.7,574.5L837,574.8L839.3,574.7L841.6,574.5L843.9,574.7L846.2,574.8L848.4,574.8L850.7,574.6L853,575L855.3,574.9L857.6,575L859.9,574.6L862.2,574.7L864.5,574.6L866.7,574.9L869,574.7L871.3,574.8L873.6,575.2L875.9,575.7L878.2,576L880.5,575.9L882.8,575.7L885,576L887.3,575.7L889.6,575.6L891.9,575.2L894.2,575.1L896.5,575.2L898.8,575L901.1,574.7L903.3,575L905.6,574.7L907.9,574.7L910.2,574.2L912.5,574.5L914.8,574.1L917.1,574.5L919.4,574.3L921.6,574.2L923.9,574.3L926.2,574.5L928.5,574.1L930.8,574.1L933.1,574.3L935.4,574.1L937.7,574L939.9,574L942.2,574L944.5,574.1L946.8,574.1L949.1,574.1L951.4,574.3L953.7,574.1L956,574.2L958.2,574L960.5,574.1L962.8,573.9L965.1,574L967.4,573.9L969.7,574.3L972,574.2L974.3,574L976.5,574.1L978.8,574.3L981.1,573.9L983.4,574.3L985.7,574.1L988,574.1L990.3,574.3L992.6,574L994.8,574.1L997.1,574.2L999.4,574.3L1001.7,574L1004,574.4L1006.3,574.4L1008.6,574.5L1010.9,574.4L1013.1,574.5L1015.4,574.5L1017.7,574.6L1020,574.6L1022.3,575.1L1024.6,574.9L1026.9,575L1029.2,575L1031.4,575.5L1033.7,575.6L1036,575.6L1038.3,575.4L1040.6,575.1L1042.9,574.9L1045.2,574.8L1047.5,574.4L1049.7,574.3L1052,574L1054.3,574.1L1056.6,573.9L1058.9,573.5L1061.2,573.1L1063.5,573.4L1065.8,573.4L1068,573.7L1070.3,573.8L1072.6,574.3L1074.9,574.7L1077.2,575L1079.5,575.1L1081.8,575.3L1084.1,574.9L1086.3,575L1088.6,574.8L1090.9,574.9L1093.2,574.6L1095.5,574.5L1097.8,574.5L1100.1,574.4L1102.4,574.5L1104.6,574.4L1106.9,574.4L1109.2,574.3L1111.5,574.2L1113.8,574.3L1116.1,574L1118.4,574L1120.7,574.3L1122.9,573.9L1125.2,574.2L1127.5,574.2L1129.8,573.9L1132.1,574.3L1134.4,574.4L1136.7,574.2L1139,574.3L1141.2,574.3L1143.5,574L1145.8,574.2L1148.1,574.2L1150.4,574.4L1152.7,574.4L1155,574.4L1157.3,574.3L1159.5,574.4L1161.8,574.3L1164.1,574.4L1166.4,574.1L1168.7,574L1171,574.1L1173.3,574.2L1175.6,574.1L1177.8,574.5L1180.1,574.3L1182.4,574.4L1184.7,574.4L1187,574.4L1189.3,574.6L1191.6,574.6L1193.9,575.3L1196.1,575.4L1198.4,575L1200.7,574.8L1203,574.5L1205.3,573.9L1207.6,573.9L1209.9,573.3L1212.1,572.9L1214.4,573.6L1216.7,574.5L1219,574.9L1221.3,575.3L1223.6,575.1L1225.9,574.6L1228.2,574.2L1230.4,574L1232.7,573.8L1235,573.6L1237.3,573.2L1239.6,573.2L1241.9,572.9L1244.2,572.9L1246.5,572.9L1248.7,573.1L1251,572.9L1253.3,573L1255.6,572.7L1257.9,572.7L1260.2,572.8L1262.5,573L1264.8,572.9L1267,572.9L1269.3,572.7L1271.6,572.9L1273.9,573L1276.2,573.1L1278.5,573L1280.8,573.5L1283.1,573.3L1285.3,573.8L1287.6,573.9L1289.9,573.5L1292.2,573.9L1294.5,574.1L1296.8,574.3L1299.1,574.2L1301.4,574.1L1303.6,574L1305.9,574.2L1308.2,573.8L1310.5,573.8L1312.8,573.5L1315.1,573.6L1317.4,573.7L1319.7,573.2L1321.9,573.5L1324.2,573.2L1326.5,573.3L1328.8,573.1L1331.1,572.8L1333.4,573.2L1335.7,573L1338,572.8L1340.2,572.8L1342.5,573.1L1344.8,573.1L1347.1,573L1349.4,572.9L1351.7,573.1L1354,573.1L1356.3,573.3L1358.5,572.9L1360.8,573.3L1363.1,573.4L1365.4,573.1L1367.7,573.5L1370,573.4L1372.3,573.5L1374.6,573.2L1376.8,573.3L1379.1,573.3L1381.4,573.7L1383.7,573.5L1386,573.5L1388.3,573.6L1390.6,573.5L1392.9,573.5L1395.1,573.6L1397.4,574L1399.7,573.8L1402,574.2L1404.3,573.9L1406.6,574L1408.9,574.1L1411.2,574L1413.4,574.2L1415.7,574.5L1418,574.6L1420.3,574.6L1422.6,574.6L1424.9,574.8L1427.2,574.6L1429.5,574.2L1431.7,574.2L1434,573.7L1436.3,573.8L1438.6,573.5L1440.9,573.5L1443.2,573.3L1445.5,572.9L1447.8,572.6L1450,572.9L1452.3,572.3L1454.6,572.7L1456.9,572.9L1459.2,573.1L1461.5,573L1463.8,572.5L1466.1,571.6L1468.3,571.2L1470.6,570.5L1472.9,570L1475.2,569.4L1477.5,569.2L1479.8,569.1L1482.1,569L1484.4,569.2L1486.6,568.9L1488.9,568.6L1491.2,568.8L1493.5,568.8L1495.8,568.4L1498.1,568.1L1500.4,568L1502.7,567.8L1504.9,567.8L1507.2,567.5L1509.5,567.4L1511.8,567.3L1514.1,567.3L1516.4,567.3L1518.7,567L1521,567.3L1523.2,567.7L1525.5,568.1L1527.8,568.5L1530.1,568.9L1532.4,569.1L1534.7,569.1L1537,569.3L1539.3,568.8L1541.5,568.8L1543.8,568.7L1546.1,570.1L1548.4,572.4L1550.7,574.2L1553,574.1L1555.3,574.1L1557.6,574L1559.8,574.1L1562.1,574L1564.4,573.9L1566.7,573.4L1569,573.4L1571.3,573.9L1573.6,574.2L1575.9,574.1L1578.1,574.4L1580.4,574.2L1582.7,574.6L1585,575L1587.3,574.9L1589.6,574.9L1591.9,574.9L1594.2,574.5L1596.4,574.4L1598.7,574.4L1601,574.5L1603.3,574.6L1605.6,574.7L1607.9,574.5L1610.2,574.4L1612.5,574.4L1614.7,574.2L1617,574.3L1619.3,574L1621.6,574.3L1623.9,574L1626.2,574.3L1628.5,574.1L1630.8,573.9L1633,573.8L1635.3,573.8L1637.6,573.9L1639.9,573.9L1642.2,573.6L1644.5,573.5L1646.8,573.7L1649.1,573.7L1651.3,573.6L1653.6,573.4L1655.9,573.6L1658.2,573.3L1660.5,573.4L1662.8,573.4L1665.1,573.7L1667.4,573.7L1669.6,573.9L1671.9,573.7L1674.2,573.7L1676.5,573.8L1678.8,574.2L1681.1,574.2L1683.4,574L1685.7,574L1687.9,574.3L1690.2,574.4L1692.5,574.4L1694.8,574.4L1697.1,574.7L1699.4,574.9L1701.7,574.6L1704,574.6L1706.2,574.7L1708.5,574.7L1710.8,574.7L1713.1,574.4L1715.4,574.6L1717.7,574.5L1720,574.3L1722.3,574L1724.5,574.3L1726.8,574.1L1729.1,574.4L1731.4,574.3L1733.7,574.4L1736,574.8L1738.3,574.7L1740.6,575.1L1742.8,574.9L1745.1,574.7L1747.4,574.8L1749.7,574.9L1752,575L1754.3,575.2L1756.6,574.8L1758.9,575L1761.1,574.9L1763.4,575.3L1765.7,574.9L1768,574.9L1770.3,575L1772.6,575.2L1774.9,575.5L1777.2,575.5L1779.4,575.4L1781.7,575.3L1784,574.9L1786.3,574.2L1788.6,573.7L1790.9,573.6L1793.2,573.1L1795.5,572.4L1797.7,572.8L1800,572.8L1802.3,573L1804.6,573.1L1806.9,573.3L1809.2,573.4L1811.5,573.8L1813.8,574L1816,574.5L1818.3,573.5L1820.6,573.4L1822.9,572.4L1825.2,571.9L1827.5,571.7L1829.8,571.4L1832.1,570.9L1834.3,570.4L1836.6,570.3L1838.9,570L1841.2,570L1843.5,569.8L1845.8,570.1L1848.1,570.7L1850.4,570.9L1852.6,571.2L1854.9,570.4L1857.2,569.4L1859.5,568.7L1861.8,568.4L1864.1,568.1L1866.4,568.2L1868.7,568.1L1870.9,568.5L1873.2,568.8L1875.5,568.8L1877.8,569.2L1880.1,569.9L1882.4,570L1884.7,569.7L1887,569.9L1889.2,569.3L1891.5,568.9L1893.8,568.3L1896.1,568.2L1898.4,568L1900.7,567.8L1903,567.8L1905.3,567.3L1907.5,567.3L1909.8,567.3L1912.1,567.4L1914.4,567L1916.7,566.4L1919,565.9L1921.3,566.2L1923.6,566.9L1925.8,567.9L1928.1,568.2L1930.4,568.6L1932.7,568.1L1935,567.6L1937.3,567.1L1939.6,567L1941.9,566.8L1944.1,566.8L1946.4,566.8L1948.7,566.9L1951,566.6L1953.3,566.6L1955.6,566.8L1957.9,566.6L1960.2,566.6L1962.4,566.8L1964.7,567.2L1967,567.2L1969.3,567.5L1971.6,567.4L1973.9,567.3L1976.2,566.8L1978.5,566.8L1980,566.8L1980,870Z" fill="#d8dfe5"/>
<path d="M105,870L105,561.9L107.3,562.1L109.6,562.6L111.9,562.6L114.1,563.1L116.4,563.3L118.7,563.5L121,564L123.3,564.1L125.6,564.3L127.9,563.6L130.2,563.1L132.4,563.5L134.7,564L137,564L139.3,564.3L141.6,564.8L143.9,565.2L146.2,565.3L148.5,565.5L150.7,566.1L153,566L155.3,566.9L157.6,567.2L159.9,567.8L162.2,568.4L164.5,569.3L166.8,570.7L169,571.5L171.3,572.8L173.6,573.9L175.9,574.9L178.2,576L180.5,576.4L182.8,577L185.1,577.7L187.3,578.6L189.6,579.1L191.9,579.5L194.2,579.7L196.5,579.8L198.8,579.9L201.1,580.2L203.4,580.3L205.6,580.2L207.9,580.6L210.2,580.7L212.5,581.1L214.8,581.2L217.1,581.2L219.4,581.7L221.7,581.2L223.9,581.2L226.2,581.2L228.5,580.7L230.8,580.6L233.1,580.2L235.4,580.4L237.7,580.7L240,580.8L242.2,581.1L244.5,581.1L246.8,581.4L249.1,581.6L251.4,581.8L253.7,581.9L256,582L258.3,581.5L260.5,580.8L262.8,580.4L265.1,580L267.4,580.7L269.7,581L272,581.5L274.3,581.8L276.6,581.8L278.8,581.9L281.1,581.9L283.4,581.4L285.7,581.4L288,581.1L290.3,580.9L292.6,580.7L294.9,580.9L297.2,580.4L299.4,580.3L301.7,580.3L304,580.5L306.3,580.2L308.6,580.4L310.9,580.4L313.2,580.6L315.5,580.6L317.7,580.6L320,580.4L322.3,580.4L324.6,580.4L326.9,580.7L329.2,580.8L331.5,580.4L333.8,580.4L336,580.5L338.3,580.5L340.6,580.6L342.9,580.7L345.2,580.5L347.5,580.4L349.8,580.7L352.1,580.7L354.3,580.8L356.6,581L358.9,580.9L361.2,580.8L363.5,580.9L365.8,580.9L368.1,580.6L370.4,581.1L372.6,581L374.9,581.1L377.2,581.3L379.5,581.3L381.8,581.6L384.1,581.6L386.4,582.1L388.7,581.9L390.9,581.7L393.2,581.7L395.5,581.5L397.8,581.4L400.1,581.1L402.4,581L404.7,580.9L407,580.4L409.2,579.4L411.5,578.3L413.8,579.3L416.1,579.7L418.4,580L420.7,580.6L423,581.2L425.3,581.7L427.5,581.6L429.8,582L432.1,582.1L434.4,581.8L436.7,581.9L439,581.7L441.3,581.7L443.6,581.9L445.8,581.8L448.1,582.1L450.4,581.8L452.7,581.8L455,582.3L457.3,582.1L459.6,581.9L461.9,582.1L464.1,581.9L466.4,582.2L468.7,582.4L471,582.4L473.3,582.3L475.6,582.1L477.9,582.2L480.2,582.1L482.4,582.5L484.7,582.4L487,582.5L489.3,582.1L491.6,581.8L493.9,581.8L496.2,581.6L498.5,581.3L500.7,581L503,580.8L505.3,580.5L507.6,580.4L509.9,580.6L512.2,580.6L514.5,580.5L516.8,580.6L519,580.8L521.3,580.9L523.6,581.2L525.9,581.5L528.2,581.3L530.5,581.6L532.8,581.7L535.1,581.8L537.3,581.6L539.6,581.6L541.9,581.7L544.2,581.8L546.5,581.4L548.8,580.9L551.1,580.7L553.4,580.9L555.6,580.8L557.9,581L560.2,581.3L562.5,581L564.8,580.8L567.1,580.3L569.4,580.3L571.7,580.4L573.9,580.4L576.2,580.4L578.5,580.9L580.8,580.8L583.1,581.2L585.4,581.4L587.7,581.2L590,581.4L592.2,581.8L594.5,581.8L596.8,581.7L599.1,581.8L601.4,581.8L603.7,582L606,581.8L608.3,581.3L610.5,581.4L612.8,581.3L615.1,581L617.4,580.6L619.7,580.6L622,580.2L624.3,579.9L626.6,580.3L628.8,580.1L631.1,579.9L633.4,580.1L635.7,579.7L638,579.9L640.3,579.8L642.6,579.4L644.9,579.4L647.1,579.3L649.4,578.9L651.7,579L654,579L656.3,579.2L658.6,579.2L660.9,579.7L663.2,579.5L665.4,579.7L667.7,579.9L670,580.2L672.3,580L674.6,580.4L676.9,580L679.2,579.8L681.5,579.6L683.7,579.1L686,579.1L688.3,578.7L690.6,578.4L692.9,578.6L695.2,578.1L697.5,578L699.8,577.9L702,577.9L704.3,577.9L706.6,578.1L708.9,578.3L711.2,578.5L713.5,578.3L715.8,578.7L718.1,578.6L720.3,578.8L722.6,579.2L724.9,579.1L727.2,579.3L729.5,579.5L731.8,579.7L734.1,579.3L736.4,579L738.6,578.6L740.9,578.2L743.2,577.9L745.5,577.4L747.8,577.1L750.1,577.2L752.4,577.6L754.7,577.6L756.9,577.8L759.2,577.9L761.5,577.7L763.8,578.1L766.1,578.7L768.4,579.1L770.7,579.1L773,579.5L775.2,580L777.5,580.3L779.8,580.7L782.1,580.7L784.4,581.1L786.7,581.2L789,581.3L791.3,580.9L793.5,581.3L795.8,581.3L798.1,581.1L800.4,581.5L802.7,581.6L805,581.2L807.3,581.6L809.6,581.4L811.8,581.5L814.1,581.8L816.4,581.7L818.7,581.4L821,581.6L823.3,581.7L825.6,581.7L827.9,581.6L830.1,581.7L832.4,581.9L834.7,581.5L837,581.8L839.3,581.7L841.6,581.5L843.9,581.7L846.2,581.8L848.4,581.8L850.7,581.6L853,582L855.3,581.9L857.6,582L859.9,581.6L862.2,581.7L864.5,581.6L866.7,581.9L869,581.7L871.3,581.8L873.6,582.2L875.9,582.8L878.2,583L880.5,582.9L882.8,582.8L885,583L887.3,582.7L889.6,582.7L891.9,582.3L894.2,582.1L896.5,582.3L898.8,582.1L901.1,581.8L903.3,582.1L905.6,581.8L907.9,581.8L910.2,581.3L912.5,581.6L914.8,581.2L917.1,581.6L919.4,581.4L921.6,581.3L923.9,581.4L926.2,581.6L928.5,581.3L930.8,581.2L933.1,581.4L935.4,581.2L937.7,581.2L939.9,581.2L942.2,581.1L944.5,581.2L946.8,581.3L949.1,581.3L951.4,581.5L953.7,581.2L956,581.3L958.2,581.2L960.5,581.3L962.8,581.1L965.1,581.2L967.4,581.1L969.7,581.4L972,581.4L974.3,581.2L976.5,581.3L978.8,581.5L981.1,581.1L983.4,581.5L985.7,581.3L988,581.3L990.3,581.5L992.6,581.3L994.8,581.3L997.1,581.4L999.4,581.5L1001.7,581.3L1004,581.6L1006.3,581.6L1008.6,581.7L1010.9,581.7L1013.1,581.7L1015.4,581.7L1017.7,581.8L1020,581.9L1022.3,582.3L1024.6,582.1L1026.9,582.2L1029.2,582.2L1031.4,582.7L1033.7,582.8L1036,582.8L1038.3,582.6L1040.6,582.3L1042.9,582.1L1045.2,582L1047.5,581.6L1049.7,581.5L1052,581.2L1054.3,581.3L1056.6,581.1L1058.9,580.6L1061.2,580.2L1063.5,580.6L1065.8,580.6L1068,580.9L1070.3,581L1072.6,581.5L1074.9,581.8L1077.2,582.1L1079.5,582.2L1081.8,582.4L1084.1,582.1L1086.3,582.1L1088.6,581.9L1090.9,582L1093.2,581.7L1095.5,581.6L1097.8,581.7L1100.1,581.5L1102.4,581.6L1104.6,581.5L1106.9,581.5L1109.2,581.4L1111.5,581.3L1113.8,581.4L1116.1,581.1L1118.4,581.1L1120.7,581.4L1122.9,581L1125.2,581.3L1127.5,581.3L1129.8,581L1132.1,581.4L1134.4,581.4L1136.7,581.3L1139,581.4L1141.2,581.4L1143.5,581.1L1145.8,581.3L1148.1,581.3L1150.4,581.4L1152.7,581.4L1155,581.4L1157.3,581.3L1159.5,581.5L1161.8,581.4L1164.1,581.4L1166.4,581.2L1168.7,581.1L1171,581.1L1173.3,581.2L1175.6,581.1L1177.8,581.5L1180.1,581.4L1182.4,581.4L1184.7,581.4L1187,581.4L1189.3,581.6L1191.6,581.6L1193.9,582.3L1196.1,582.3L1198.4,582L1200.7,581.8L1203,581.5L1205.3,580.9L1207.6,580.9L1209.9,580.3L1212.1,579.9L1214.4,580.5L1216.7,581.4L1219,581.9L1221.3,582.3L1223.6,582.1L1225.9,581.5L1228.2,581.2L1230.4,580.9L1232.7,580.8L1235,580.5L1237.3,580.1L1239.6,580.1L1241.9,579.8L1244.2,579.8L1246.5,579.8L1248.7,580.1L1251,579.8L1253.3,579.9L1255.6,579.6L1257.9,579.6L1260.2,579.7L1262.5,579.9L1264.8,579.9L1267,579.9L1269.3,579.7L1271.6,579.8L1273.9,579.9L1276.2,580L1278.5,580L1280.8,580.5L1283.1,580.2L1285.3,580.8L1287.6,580.8L1289.9,580.5L1292.2,580.8L1294.5,581.1L1296.8,581.3L1299.1,581.2L1301.4,581.1L1303.6,580.9L1305.9,581.2L1308.2,580.7L1310.5,580.8L1312.8,580.5L1315.1,580.6L1317.4,580.7L1319.7,580.2L1321.9,580.4L1324.2,580.2L1326.5,580.3L1328.8,580.1L1331.1,579.8L1333.4,580.2L1335.7,580L1338,579.8L1340.2,579.8L1342.5,580.1L1344.8,580.1L1347.1,580L1349.4,579.9L1351.7,580.1L1354,580.1L1356.3,580.4L1358.5,580L1360.8,580.3L1363.1,580.4L1365.4,580.1L1367.7,580.5L1370,580.4L1372.3,580.5L1374.6,580.2L1376.8,580.3L1379.1,580.3L1381.4,580.7L1383.7,580.5L1386,580.5L1388.3,580.6L1390.6,580.6L1392.9,580.5L1395.1,580.6L1397.4,581L1399.7,580.8L1402,581.2L1404.3,580.9L1406.6,581L1408.9,581.2L1411.2,581.1L1413.4,581.2L1415.7,581.6L1418,581.6L1420.3,581.6L1422.6,581.6L1424.9,581.8L1427.2,581.7L1429.5,581.3L1431.7,581.2L1434,580.7L1436.3,580.9L1438.6,580.6L1440.9,580.5L1443.2,580.3L1445.5,580L1447.8,579.7L1450,580L1452.3,579.4L1454.6,579.8L1456.9,581L1459.2,581.6L1461.5,581.4L1463.8,581.4L1466.1,581.6L1468.3,581.4L1470.6,581.2L1472.9,581.1L1475.2,581.1L1477.5,581L1479.8,581.5L1482.1,581.5L1484.4,581.2L1486.6,581.1L1488.9,581.4L1491.2,581.5L1493.5,581.6L1495.8,581.1L1498.1,581.5L1500.4,581.5L1502.7,581.4L1504.9,581.2L1507.2,581.1L1509.5,581.5L1511.8,581.2L1514.1,581.2L1516.4,581.3L1518.7,581.2L1521,581.5L1523.2,581.1L1525.5,581L1527.8,581.3L1530.1,581.4L1532.4,581.5L1534.7,581.4L1537,581.5L1539.3,581.6L1541.5,581.3L1543.8,581.3L1546.1,581.1L1548.4,581.2L1550.7,581.3L1553,581L1555.3,581.2L1557.6,581.1L1559.8,581.3L1562.1,581.1L1564.4,581L1566.7,580.5L1569,580.6L1571.3,581.1L1573.6,581.3L1575.9,581.3L1578.1,581.5L1580.4,581.4L1582.7,581.7L1585,582.1L1587.3,582L1589.6,582L1591.9,582L1594.2,581.6L1596.4,581.5L1598.7,581.5L1601,581.7L1603.3,581.7L1605.6,581.8L1607.9,581.6L1610.2,581.6L1612.5,581.6L1614.7,581.4L1617,581.4L1619.3,581.1L1621.6,581.4L1623.9,581.1L1626.2,581.4L1628.5,581.2L1630.8,581L1633,580.9L1635.3,580.9L1637.6,581.1L1639.9,581.1L1642.2,580.7L1644.5,580.7L1646.8,580.9L1649.1,580.9L1651.3,580.7L1653.6,580.6L1655.9,580.8L1658.2,580.4L1660.5,580.5L1662.8,580.6L1665.1,580.9L1667.4,580.8L1669.6,581L1671.9,580.9L1674.2,580.9L1676.5,580.9L1678.8,581.4L1681.1,581.3L1683.4,581.2L1685.7,581.1L1687.9,581.5L1690.2,581.6L1692.5,581.6L1694.8,581.6L1697.1,581.9L1699.4,582.1L1701.7,581.8L1704,581.8L1706.2,581.9L1708.5,581.9L1710.8,581.9L1713.1,581.6L1715.4,581.8L1717.7,581.7L1720,581.5L1722.3,581.2L1724.5,581.5L1726.8,581.3L1729.1,581.6L1731.4,581.5L1733.7,581.6L1736,582L1738.3,581.9L1740.6,582.3L1742.8,582.1L1745.1,581.9L1747.4,581.9L1749.7,582L1752,582L1754.3,582.1L1756.6,581.7L1758.9,581.8L1761.1,581.6L1763.4,581.9L1765.7,581.5L1768,581.4L1770.3,581.3L1772.6,581.5L1774.9,581.7L1777.2,581.8L1779.4,581.9L1781.7,582L1784,581.7L1786.3,581.3L1788.6,581L1790.9,581.1L1793.2,580.9L1795.5,580.4L1797.7,580.8L1800,580.9L1802.3,581L1804.6,581.1L1806.9,581.2L1809.2,581.4L1811.5,581.7L1813.8,582L1816,582.5L1818.3,581.8L1820.6,581.9L1822.9,581.3L1825.2,581.1L1827.5,581.2L1829.8,581.2L1832.1,581.1L1834.3,580.8L1836.6,580.9L1838.9,580.7L1841.2,580.8L1843.5,580.8L1845.8,581.2L1848.1,581.8L1850.4,582.2L1852.6,582.5L1854.9,582L1857.2,581.3L1859.5,580.8L1861.8,580.6L1864.1,580.5L1866.4,580.6L1868.7,580.6L1870.9,581L1873.2,581.2L1875.5,581.1L1877.8,581.4L1880.1,582L1882.4,582L1884.7,581.8L1887,582L1889.2,581.6L1891.5,581.4L1893.8,581L1896.1,581.1L1898.4,581.1L1900.7,581.1L1903,581.4L1905.3,581.1L1907.5,581.3L1909.8,581.4L1912.1,581.5L1914.4,581.2L1916.7,580.6L1919,580.2L1921.3,580.4L1923.6,581L1925.8,581.8L1928.1,582.1L1930.4,582.4L1932.7,582L1935,581.6L1937.3,581.1L1939.6,581.1L1941.9,581L1944.1,581L1946.4,581.2L1948.7,581.4L1951,581.1L1953.3,581.1L1955.6,581.3L1957.9,581L1960.2,581L1962.4,581.2L1964.7,581.5L1967,581.5L1969.3,581.7L1971.6,581.6L1973.9,581.5L1976.2,581.1L1978.5,581L1980,581L1980,870Z" fill="#6c8390"/>
<path d="M105,870L105,616.8L107.3,617.3L109.6,617.3L111.9,617.7L114.1,617.9L116.4,618L118.7,618.1L121,618.5L123.3,618.8L125.6,618.8L127.9,618.4L130.2,617.9L132.4,618L134.7,618.7L137,618.8L139.3,619.1L141.6,619.1L143.9,619.5L146.2,619.9L148.5,620.1L150.7,620.2L153,620.3L155.3,621L157.6,621.9L159.9,622.4L162.2,623.3L164.5,624.1L166.8,625.3L169,626.3L171.3,627.1L173.6,628L175.9,629.2L178.2,630.2L180.5,631.1L182.8,632.1L185.1,632.9L187.3,633.4L189.6,634.6L191.9,635.2L194.2,635.3L196.5,635.2L198.8,635.2L201.1,635.5L203.4,635.6L205.6,635.6L207.9,635.7L210.2,635.4L212.5,635.3L214.8,635.5L217.1,635.6L219.4,635.4L221.7,635.6L223.9,635.7L226.2,635.4L228.5,635.6L230.8,635.6L233.1,635.5L235.4,635.4L237.7,635.4L240,635.6L242.2,635.6L244.5,635.5L246.8,635.3L249.1,635.7L251.4,635.6L253.7,635.4L256,635.5L258.3,635.7L260.5,635.7L262.8,635.5L265.1,635.5L267.4,635.5L269.7,635.3L272,635.3L274.3,635.3L276.6,635.6L278.8,635.4L281.1,635.5L283.4,635.5L285.7,635.5L288,635.3L290.3,635.3L292.6,635.8L294.9,635.4L297.2,635.3L299.4,635.6L301.7,635.6L304,635.3L306.3,635.6L308.6,635.4L310.9,635.5L313.2,635.3L315.5,635.3L317.7,635.8L320,635.7L322.3,635.5L324.6,635.5L326.9,635.4L329.2,635.6L331.5,635.5L333.8,635.7L336,635.6L338.3,635.7L340.6,635.7L342.9,635.4L345.2,635.3L347.5,635.4L349.8,635.3L352.1,635.3L354.3,635.3L356.6,635.5L358.9,635.7L361.2,635.5L363.5,635.7L365.8,635.7L368.1,635.3L370.4,635.6L372.6,635.5L374.9,635.3L377.2,635.7L379.5,635.4L381.8,635.5L384.1,635.6L386.4,635.7L388.7,635.6L390.9,635.5L393.2,635.5L395.5,635.3L397.8,635.7L400.1,635.8L402.4,635.4L404.7,635.3L407,635.4L409.2,635.4L411.5,635.7L413.8,635.7L416.1,635.7L418.4,635.3L420.7,635.7L423,635.6L425.3,635.6L427.5,635.8L429.8,635.3L432.1,635.3L434.4,635.6L436.7,635.7L439,635.6L441.3,635.4L443.6,635.6L445.8,635.6L448.1,635.3L450.4,635.4L452.7,635.4L455,635.3L457.3,635.5L459.6,635.3L461.9,635.4L464.1,635.3L466.4,635.6L468.7,635.3L471,635.6L473.3,635.4L475.6,635.3L477.9,635.7L480.2,635.4L482.4,635.7L484.7,635.7L487,635.7L489.3,635.3L491.6,635.5L493.9,635.3L496.2,635.7L498.5,635.7L500.7,635.6L503,635.5L505.3,635.4L507.6,635.7L509.9,635.5L512.2,635.6L514.5,635.3L516.8,635.4L519,635.3L521.3,635.6L523.6,635.5L525.9,635.3L528.2,635.7L530.5,635.4L532.8,635.5L535.1,635.3L537.3,635.4L539.6,635.7L541.9,635.4L544.2,635.4L546.5,635.5L548.8,635.4L551.1,635.7L553.4,635.3L555.6,635.8L557.9,635.3L560.2,635.7L562.5,635.6L564.8,635.4L567.1,635.5L569.4,635.4L571.7,635.4L573.9,635.4L576.2,635.5L578.5,635.8L580.8,635.8L583.1,635.7L585.4,635.3L587.7,635.4L590,635.7L592.2,635.3L594.5,635.6L596.8,635.4L599.1,635.8L601.4,635.3L603.7,635.7L606,635.4L608.3,635.3L610.5,635.3L612.8,635.7L615.1,635.5L617.4,635.4L619.7,635.5L622,635.7L624.3,635.4L626.6,635.6L628.8,635.3L631.1,635.4L633.4,635.7L635.7,635.6L638,635.4L640.3,635.3L642.6,635.3L644.9,635.6L647.1,635.5L649.4,635.4L651.7,635.4L654,635.6L656.3,635.6L658.6,635.7L660.9,635.6L663.2,635.4L665.4,635.3L667.7,635.6L670,635.5L672.3,635.6L674.6,635.3L676.9,635.7L679.2,635.4L681.5,635.7L683.7,635.7L686,635.5L688.3,635.3L690.6,635.7L692.9,635.5L695.2,635.7L697.5,635.4L699.8,635.4L702,635.7L704.3,635.5L706.6,635.4L708.9,635.5L711.2,635.6L713.5,635.3L715.8,635.5L718.1,635.5L720.3,635.5L722.6,635.3L724.9,635.6L727.2,635.7L729.5,635.7L731.8,635.4L734.1,635.6L736.4,635.5L738.6,635.7L740.9,635.3L743.2,635.7L745.5,635.8L747.8,635.5L750.1,635.5L752.4,635.5L754.7,635.5L756.9,635.3L759.2,635.8L761.5,635.4L763.8,635.4L766.1,635.3L768.4,635.4L770.7,635.7L773,635.3L775.2,635.3L777.5,635.6L779.8,635.4L782.1,635.3L784.4,635.6L786.7,635.6L789,635.5L791.3,635.6L793.5,635.3L795.8,635.7L798.1,635.6L800.4,635.3L802.7,635.3L805,635.5L807.3,635.5L809.6,635.4L811.8,635.3L814.1,635.5L816.4,635.4L818.7,635.6L821,635.7L823.3,635.4L825.6,635.6L827.9,635.7L830.1,635.4L832.4,635.7L834.7,635.8L837,635.5L839.3,635.5L841.6,635.7L843.9,635.5L846.2,635.5L848.4,635.8L850.7,635.7L853,635.5L855.3,635.4L857.6,635.5L859.9,635.5L862.2,635.8L864.5,635.7L866.7,635.7L869,635.7L871.3,635.7L873.6,635.3L875.9,635.5L878.2,635.8L880.5,635.8L882.8,635.4L885,635.5L887.3,635.6L889.6,635.5L891.9,635.6L894.2,635.3L896.5,635.5L898.8,635.5L901.1,635.3L903.3,635.4L905.6,635.8L907.9,635.7L910.2,635.8L912.5,635.6L914.8,635.7L917.1,635.7L919.4,635.7L921.6,635.3L923.9,635.6L926.2,635.4L928.5,635.6L930.8,635.4L933.1,635.6L935.4,635.8L937.7,635.6L939.9,635.4L942.2,635.6L944.5,635.5L946.8,635.8L949.1,635.4L951.4,635.4L953.7,635.6L956,635.4L958.2,635.6L960.5,635.8L962.8,635.5L965.1,635.4L967.4,635.5L969.7,635.6L972,635.4L974.3,635.4L976.5,635.4L978.8,635.4L981.1,635.5L983.4,635.4L985.7,635.4L988,635.3L990.3,635.6L992.6,635.7L994.8,635.6L997.1,635.6L999.4,635.6L1001.7,635.4L1004,635.7L1006.3,635.5L1008.6,635.6L1010.9,635.6L1013.1,635.5L1015.4,635.5L1017.7,635.4L1020,635.4L1022.3,635.6L1024.6,635.5L1026.9,635.6L1029.2,635.3L1031.4,635.5L1033.7,635.7L1036,635.4L1038.3,635.6L1040.6,635.5L1042.9,635.4L1045.2,635.8L1047.5,635.4L1049.7,635.7L1052,635.4L1054.3,635.3L1056.6,635.7L1058.9,635.5L1061.2,635.3L1063.5,635.5L1065.8,635.5L1068,635.7L1070.3,635.4L1072.6,635.4L1074.9,635.8L1077.2,635.7L1079.5,635.4L1081.8,635.5L1084.1,635.5L1086.3,635.6L1088.6,635.6L1090.9,635.7L1093.2,635.7L1095.5,635.6L1097.8,635.7L1100.1,635.7L1102.4,635.7L1104.6,635.5L1106.9,635.7L1109.2,635.7L1111.5,635.8L1113.8,635.4L1116.1,635.7L1118.4,635.3L1120.7,635.7L1122.9,635.6L1125.2,635.6L1127.5,635.8L1129.8,635.6L1132.1,635.5L1134.4,635.7L1136.7,635.7L1139,635.6L1141.2,635.5L1143.5,635.5L1145.8,635.5L1148.1,635.7L1150.4,635.4L1152.7,635.5L1155,635.6L1157.3,635.5L1159.5,635.5L1161.8,635.7L1164.1,635.7L1166.4,635.6L1168.7,635.5L1171,635.4L1173.3,635.5L1175.6,635.4L1177.8,635.6L1180.1,635.6L1182.4,635.3L1184.7,635.8L1187,635.5L1189.3,635.7L1191.6,635.7L1193.9,635.8L1196.1,635.4L1198.4,635.5L1200.7,635.8L1203,635.3L1205.3,635.3L1207.6,635.6L1209.9,635.6L1212.1,635.8L1214.4,635.7L1216.7,635.6L1219,635.8L1221.3,635.6L1223.6,635.6L1225.9,635.7L1228.2,635.5L1230.4,635.5L1232.7,635.6L1235,635.5L1237.3,635.8L1239.6,635.6L1241.9,635.6L1244.2,635.4L1246.5,635.5L1248.7,635.5L1251,635.6L1253.3,635.6L1255.6,635.7L1257.9,635.8L1260.2,635.6L1262.5,635.5L1264.8,635.6L1267,635.8L1269.3,635.5L1271.6,635.6L1273.9,635.7L1276.2,635.4L1278.5,635.5L1280.8,635.8L1283.1,635.7L1285.3,635.6L1287.6,635.4L1289.9,635.8L1292.2,635.7L1294.5,635.7L1296.8,635.8L1299.1,635.8L1301.4,635.5L1303.6,635.4L1305.9,635.5L1308.2,635.6L1310.5,635.6L1312.8,635.4L1315.1,635.4L1317.4,635.6L1319.7,635.6L1321.9,635.5L1324.2,635.8L1326.5,635.6L1328.8,635.3L1331.1,635.5L1333.4,635.7L1335.7,635.5L1338,635.7L1340.2,635.3L1342.5,635.5L1344.8,635.7L1347.1,635.6L1349.4,635.6L1351.7,635.4L1354,635.6L1356.3,635.6L1358.5,635.4L1360.8,635.6L1363.1,635.6L1365.4,635.8L1367.7,635.6L1370,635.5L1372.3,635.4L1374.6,635.4L1376.8,635.7L1379.1,635.4L1381.4,635.4L1383.7,635.4L1386,635.6L1388.3,635.7L1390.6,635.6L1392.9,635.7L1395.1,635.3L1397.4,635.3L1399.7,635.7L1402,635.5L1404.3,635.7L1406.6,635.5L1408.9,635.4L1411.2,635.5L1413.4,635.4L1415.7,635.8L1418,635.6L1420.3,635.5L1422.6,635.5L1424.9,635.5L1427.2,635.3L1429.5,635.8L1431.7,635.6L1434,635.8L1436.3,635.5L1438.6,635.6L1440.9,635.4L1443.2,635.3L1445.5,635.8L1447.8,635.7L1450,635.5L1452.3,635.8L1454.6,635.7L1456.9,635.5L1459.2,635.6L1461.5,635.8L1463.8,635.6L1466.1,635.8L1468.3,635.4L1470.6,635.5L1472.9,635.7L1475.2,635.4L1477.5,635.5L1479.8,635.8L1482.1,635.6L1484.4,635.7L1486.6,635.4L1488.9,635.4L1491.2,635.5L1493.5,635.4L1495.8,635.8L1498.1,635.5L1500.4,635.6L1502.7,635.4L1504.9,635.6L1507.2,635.5L1509.5,635.5L1511.8,635.4L1514.1,635.4L1516.4,635.7L1518.7,635.5L1521,635.4L1523.2,635.4L1525.5,635.5L1527.8,635.4L1530.1,635.3L1532.4,635.7L1534.7,635.5L1537,635.4L1539.3,635.7L1541.5,635.4L1543.8,635.5L1546.1,635.7L1548.4,635.4L1550.7,635.5L1553,635.7L1555.3,635.7L1557.6,635.4L1559.8,635.5L1562.1,635.7L1564.4,635.5L1566.7,635.8L1569,635.4L1571.3,635.8L1573.6,635.6L1575.9,635.4L1578.1,635.6L1580.4,635.4L1582.7,635.7L1585,635.5L1587.3,635.8L1589.6,635.6L1591.9,635.5L1594.2,635.5L1596.4,635.6L1598.7,635.4L1601,635.8L1603.3,635.4L1605.6,635.6L1607.9,635.6L1610.2,635.5L1612.5,635.7L1614.7,635.5L1617,635.7L1619.3,635.6L1621.6,635.5L1623.9,635.5L1626.2,635.4L1628.5,635.4L1630.8,635.8L1633,635.5L1635.3,635.7L1637.6,635.4L1639.9,635.6L1642.2,635.5L1644.5,635.6L1646.8,635.5L1649.1,635.4L1651.3,635.5L1653.6,635.4L1655.9,635.4L1658.2,635.7L1660.5,635.5L1662.8,635.5L1665.1,635.8L1667.4,635.7L1669.6,635.8L1671.9,635.8L1674.2,635.4L1676.5,635.5L1678.8,635.3L1681.1,635.7L1683.4,635.7L1685.7,635.5L1687.9,635.5L1690.2,635.7L1692.5,635.7L1694.8,635.5L1697.1,635.8L1699.4,635.5L1701.7,635.6L1704,635.4L1706.2,635.4L1708.5,635.8L1710.8,635.7L1713.1,635.7L1715.4,635.4L1717.7,635.4L1720,635.4L1722.3,635.4L1724.5,635.5L1726.8,635.5L1729.1,635.4L1731.4,635.5L1733.7,635.7L1736,635.4L1738.3,635.8L1740.6,635.6L1742.8,635.7L1745.1,635.5L1747.4,635.6L1749.7,635.7L1752,635.5L1754.3,635.3L1756.6,635.8L1758.9,635.7L1761.1,635.5L1763.4,635.4L1765.7,635.8L1768,635.6L1770.3,635.4L1772.6,635.5L1774.9,635.4L1777.2,635.7L1779.4,635.4L1781.7,635.8L1784,635.7L1786.3,635.4L1788.6,635.7L1790.9,635.5L1793.2,635.7L1795.5,635.8L1797.7,635.5L1800,635.4L1802.3,635.8L1804.6,635.6L1806.9,635.8L1809.2,635.7L1811.5,635.7L1813.8,635.8L1816,635.7L1818.3,635.6L1820.6,635.4L1822.9,635.7L1825.2,635.6L1827.5,635.6L1829.8,635.8L1832.1,635.4L1834.3,635.7L1836.6,635.4L1838.9,635.7L1841.2,635.7L1843.5,635.5L1845.8,635.6L1848.1,635.8L1850.4,635.7L1852.6,635.6L1854.9,635.5L1857.2,635.4L1859.5,635.5L1861.8,635.5L1864.1,635.4L1866.4,635.5L1868.7,635.4L1870.9,635.7L1873.2,635.7L1875.5,635.5L1877.8,635.5L1880.1,635.6L1882.4,635.6L1884.7,635.8L1887,635.5L1889.2,635.5L1891.5,635.8L1893.8,635.4L1896.1,635.6L1898.4,635.5L1900.7,635.8L1903,635.6L1905.3,635.7L1907.5,635.4L1909.8,635.7L1912.1,635.6L1914.4,635.6L1916.7,635.7L1919,635.8L1921.3,635.4L1923.6,635.5L1925.8,635.5L1928.1,635.5L1930.4,635.4L1932.7,635.5L1935,635.4L1937.3,635.7L1939.6,635.6L1941.9,635.4L1944.1,635.5L1946.4,635.6L1948.7,635.5L1951,635.4L1953.3,635.4L1955.6,635.4L1957.9,635.8L1960.2,635.7L1962.4,635.4L1964.7,635.7L1967,635.8L1969.3,635.6L1971.6,635.4L1973.9,635.6L1976.2,635.6L1978.5,635.4L1980,635.6L1980,870Z" fill="#dcc81e"/>
</g>
<path d="M1980,870L1980,107L2021.2,107L2026.2,167L2113,167L2117.5,190.2L2204.5,190.2L2209.2,203.5L2297,203.5L2297,870Z" fill="#b4c2cb"/>
<path d="M105,256.8L115,257.5L130,257.5L136.2,259.5L145,258.8L153.8,260L160,262L163.8,262.5L168.8,265L175,265.8L186.2,269.5L191.2,277L198.8,278.2L207.5,281.2L213.8,282.5L222.5,287L230,292L237.5,297.5L245,303L255,308L262.5,310L270,311.8L277.5,313.8L283.8,314.2L292.5,320L300,321.2L307.5,322.5L315,323L321.2,321.2L327.5,318.2L332.5,320L341.2,320L346.2,323L355,323.2L360,322L365,318.2L370,317.8L373.8,319.2L378,327.5L382.5,325L392.5,323.2L403.8,321.8L410,318.8L423.8,317L432.5,312.5L440,304.5L446.2,300L452.5,297.5L460,295.5L465,294.2L470,295L475,291.8L480,290.5L490,289.5L501.2,286.2L506.2,287L511.2,286.2L522.5,288L532.5,288.8L542.5,286.2L550,283.8L557.5,281.2L566.2,275L575,273L580,273.8L590,270.5L596.2,271.2L602.5,272.5L607.5,268.8L617.5,268.8L630,265L640,265.8L650,263.8L653.8,263L661.2,252L666.2,251.2L673.8,246.2L680,242L685,241.2L690,238.8L695,240L703.8,223.8L710,220L716.2,217.5L726.2,216.2L731.2,202.5L735.5,185.8L740,185L744.5,180L749.5,167L755,161.2L760,155.8L765,152.5L770,150.5L781.2,150.5L787.5,148L795,145L802.5,146.2L810,146.2L817.5,150L822.5,150.5L827.5,154.2L832.5,153.8L837,152L841.2,155.5L845.8,152.5L850,154.5L855,151.2L859.5,153L864.5,153.8L868.8,149.5L877.5,150.5L886.2,155.8L896.2,159.5L902.5,158.8L910,159.2L915,157.5L920,154.5L927.5,154.5L938.8,157.5L946.2,157L951.2,162L955,162.5L959.5,157.5L970,162L977.5,165L982.5,165.5L992.5,156.2L996.2,157L1000.5,154.5L1010,160L1013.8,160.5L1018.8,158.2L1025,159.5L1032.5,157.5L1037.5,159.2L1045,157L1051.2,146.2L1056.2,143.8L1060,147L1067,154.5L1072.5,155L1078.8,154.5L1083.8,159.2L1087.5,159.5L1100,156.2L1106.2,153.8L1110,155.5L1115,154.5L1120,155L1128.8,152L1133.8,146.2L1141.2,146.2L1147.5,150L1157.5,147L1171.2,147L1175,145L1180,148L1184.5,146.2L1190,156.2L1195,158.2L1200,160L1206.2,153L1216.2,152L1221.2,153.2L1227.5,151.2L1234.5,150L1240,152.5L1247.5,153.8L1253.8,151.8L1262.5,148.8L1271.2,147L1276.2,141.8L1282.5,141.2L1289.5,138.8L1294.5,141.2L1298.8,138.8L1303,134.2L1307.5,136.2L1317.5,132.5L1321.8,129.5L1326.2,131.2L1331.2,126.2L1342.5,125.8L1352.5,125.5L1362.5,126.2L1367.5,122.5L1372.5,124.2L1377,122L1385,123.2L1393.8,124.2L1400,127L1404.5,125.5L1408,122L1417.5,125L1422.5,130L1426.2,132.5L1431.2,127.5L1436.2,129.5L1446.2,130.8L1451.2,127.5L1455,127.5L1462.5,131.2L1467.5,130L1472.5,125L1476.2,124.5L1481.2,118.8L1488.8,118.8L1500,118.2L1505,120L1509.2,123L1513.8,120L1517.5,120.5L1522.5,117.5L1532.5,120L1537.5,118L1542,117L1546.2,113L1551.2,117L1560,118L1564.5,114.2L1568.8,109.5L1572.5,112.5L1578,113.8L1586.2,112L1591.2,109.5L1600,112.5L1610,113.8L1622.5,113.2L1626.2,107L1631.2,105.8L1636.2,108.8L1646.2,103.8L1650,105.8L1656.2,105.5L1661.2,107L1668.8,107.5L1677.5,104.5L1683.8,105L1688,103L1692,108.8L1700,113L1706.2,115.5L1711.2,113.8L1720,110L1728.8,108.2L1737.5,103.8L1742,97L1746.2,97.5L1750,97L1757.5,98L1765,98.8L1770,99.5L1775,97L1778.8,93L1785,90L1792.5,83.8L1797.5,85L1802,90.8L1806.2,86.2L1810.8,92.5L1815,88L1820,86.2L1825,83.2L1830,83.8L1836.2,81.2L1839.5,78L1842.5,72L1846.2,74.5L1851.8,78.8L1857.5,76.2L1863.8,73.8L1870,73L1880,74.5L1892.5,72L1900,73L1906.2,73.8L1912.5,71.2L1920,69.5L1930,72L1940,72.5L1947.5,72.5L1953.8,73.8L1957.5,72.5L1962.5,73.8L1970,72.5L1980,72.5" fill="none" stroke="#257257" stroke-width="3.9" stroke-linejoin="miter" />
<path d="M105,308L108.8,303.8L117.5,302.5L123.8,308L127.5,309.5L131.2,306.2L136.2,310L141.2,311.2L146.2,313.8L151.2,314.5L160,319.5L163.8,318.2L168.8,322.5L173.8,325L177.5,327.5L183.8,325L193.8,324.2L200,315.5L210,315.8L213.8,313.8L218.8,321.8L227.5,320.8L236.2,326.2L245,326.2L255,335L258.8,333.8L265,338L268.8,337.5L275,333L282.5,332L287,326.2L291.2,329.5L295.5,320L300,323L305,321.8L312.5,325.5L319.5,329.2L323.8,328L328,324.5L332.5,332L341.2,330.8L351.2,340L355.5,340.8L360,334.5L368.8,330L377.5,330.8L382.5,328L387.5,327.5L392,323L396.2,325L402.5,329.5L406.2,331.2L411.2,331.2L415,333L420,333.2L424.5,335.5L432.5,331.2L438,329.5L442,331.2L447.5,336.2L451.2,333.8L456.2,337L461.2,338L467.5,330L473.8,324.5L478.8,323.8L485,326.2L488.8,327L492.5,328.8L496.2,328L506.2,332.5L510,332L516.2,333.8L525,333.2L533.8,333.8L543.8,332L548.8,325.5L557.5,327L561.2,325L566.2,317.5L575,316.2L579.5,322L585,318.8L590,313L593.8,313L598.8,308.2L602.5,308L607.5,304.5L612,302.5L616.2,305.5L621.2,305L625,302.5L630,302L635,298.2L638.8,299.5L643.8,297L647.5,293.8L650,292.5L653.8,286.2L657.5,272.5L662.5,266.2L667,258.8L671.2,258.8L680,253L689.5,254.5L700,250L707.5,242L712.5,238L717.5,232.5L726.2,234.2L730,232.5L740,232.5L745,230.5L753.8,223.2L760,220L765,218.8L772,222L777.5,221.2L785.8,230.8L790,226.2L800,223.2L805,223L809.5,219.2L813.8,221.8L822.5,209.5L827,213L835,203L846.2,202.5L850,205L854.5,197.5L859.5,203L863.8,202L868.2,195.8L876.2,200.5L882.5,203.8L887.5,200.8L896.2,205L900,198.8L905,203.8L910,201.2L918.8,192.5L925,191.8L932.5,188.8L937.5,188L942,193.8L946.2,188.2L950.8,203.8L955.5,196.2L959.2,183.8L965,187.5L973.8,189.5L977.5,188.8L982.5,195L987.5,189.5L992.5,190L997.5,188L1005,188.2L1010,198.8L1013.8,192.5L1018.8,197L1023.8,193.2L1028.2,201.8L1037.5,200L1046.2,198.8L1051.2,193.8L1056.2,192L1062.5,192L1070,189.2L1080,188.8L1085,190.5L1092.5,195L1097.5,192.5L1102,191.2L1106.2,185L1110,188.2L1115,192L1121.2,200.8L1126.2,203L1129.5,203.8L1133.8,207L1138.8,207L1143.8,202.5L1151.2,202L1156.2,212L1160,207.5L1165,195.8L1168.8,197L1173.8,193.8L1178.8,195L1183.8,195L1187.5,197.5L1193.8,207L1197.5,202.5L1200,202.5L1211.2,194.5L1218.8,200L1224.5,202.5L1230,200.8L1238.8,202L1248,211.2L1252.5,203.2L1257.5,210.8L1262.5,202.5L1267,203.8L1271.2,208.8L1275,198.2L1280,202.5L1289.5,203L1293.8,207L1298.8,209.5L1303.2,205.8L1308,208L1312.5,206.2L1317.5,205.8L1321.2,203.8L1325,208L1330,208.8L1336.2,210.5L1339.5,208.2L1343.8,210.8L1347.5,210L1357.5,213L1362.5,212L1366.2,215L1371.2,222L1376.2,216.2L1381.2,213L1386.2,213.2L1390,215L1395,215L1398.8,225L1403.8,222.5L1408,218L1412.5,222L1417.5,225L1422.5,230.8L1427.5,230L1431.2,227.5L1436.2,230L1443.8,225L1449.5,221.2L1453.8,228.8L1460,225L1465,224.2L1472.5,225L1480,222.5L1486.2,224.5L1490,225L1496.2,221.2L1500,221.2L1504.2,220L1508.8,231.8L1513.8,228.8L1517.5,228.8L1522,223L1527.5,230L1532.5,229.5L1546.2,225L1550,225.8L1555,225L1560,232.5L1563.8,237L1572.5,228.8L1577.5,226.2L1582.5,225.8L1591.2,223.8L1596.2,227L1600,224.5L1605,227.5L1609.2,228.8L1615,226.2L1622.5,225.5L1628.8,222.5L1632.5,223L1637.5,225L1642.5,223.2L1647.5,220.8L1656.2,218L1661.2,217.5L1666.2,216.2L1670,216.8L1673.8,228L1678.8,222.5L1682.5,222L1687.5,218.8L1692,222.5L1696.2,222L1701.2,221.8L1706.2,220L1710,228.2L1714.5,220.8L1720,225L1723.8,227.5L1728.8,228L1733.8,223L1737.5,224.2L1742.5,220L1747.5,219.2L1750,222.5L1756.2,228L1765,227L1770,221.2L1774.5,220.5L1779.5,216.8L1783.8,229.2L1792.5,221.2L1801.2,223.8L1806.2,220.8L1811.2,226.2L1820,228L1828.8,218.8L1833.8,217.5L1838.8,213.8L1842.5,215L1847.5,211.2L1852,220.8L1856.2,213L1861.2,208.8L1872.5,205L1875,203.2L1879.5,205.8L1886.2,201.2L1893,195.8L1897.5,198.2L1901.8,199.5L1906.2,198L1912.5,197.5L1916.2,200.5L1920.8,195.8L1928.8,200L1935,202L1947.5,204.2L1956.2,201.8L1966.2,204.5L1971.2,207L1976.2,205L1980,205" fill="none" stroke="#6b3358" stroke-width="3.9" stroke-linejoin="miter" />
<path d="M1984,205.5L2021.8,205.5L2025.8,236.2L2113,236.2L2117,241.8L2205,241.8L2208.8,261.8L2297,261.8" fill="none" stroke="#6b3358" stroke-width="3.9" stroke-linejoin="round" stroke-linejoin="miter"/>
<path d="M105,174.5L191,174.5L195.5,420.8L283.2,420.8L287,470.8L374.2,470.8L378.8,635L466.2,635L470,764.6L557,764.6L561.5,802.6L648.5,802.6L653,592.8L740,592.8L744.5,466.8L831.5,466.8L835.5,258.8L923,258.8L927.5,92.5L1015,92.5L1019.5,69.2L1106.2,69.2L1110.8,131.2L1197.5,131.2L1202.5,278.8L1288.8,278.8L1294.2,446.8L1380.5,446.8L1385.5,466.8L1563.8,466.8L1568,468.8L1838.8,468.8L1843,466.8L1976.4,466.8" fill="none" stroke="#3d5360" stroke-width="4" stroke-linejoin="miter" />
<path d="M1984.2,466.8L2021.8,466.8L2025.8,473L2112.5,473L2117.5,620.8L2204.5,620.8L2209.5,802.5L2297,802.5" fill="none" stroke="#3d5360" stroke-width="4" stroke-linejoin="miter" />
<rect x="1976" y="107" width="8.2" height="763" fill="#ffffff"/>
<g fill="none" stroke="#3d5360" stroke-width="2"><path d="M92,70 H105 V881"/><path d="M105,870 H2297.2"/><path d="M2308,70 H2297.2 V881"/></g><g stroke="#000" stroke-width="2"><path d="M92,870 H105"/><path d="M92,791.7 H105"/><path d="M92,713.4 H105"/><path d="M92,635.1 H105"/><path d="M92,556.8 H105"/><path d="M92,478.5 H105"/><path d="M92,400.2 H105"/><path d="M92,321.9 H105"/><path d="M92,243.6 H105"/><path d="M92,165.3 H105"/><path d="M92,87 H105"/><path d="M286.5,870 V881"/><path d="M469.6,870 V881"/><path d="M652.7,870 V881"/><path d="M835.8,870 V881"/><path d="M1018.9,870 V881"/><path d="M1202,870 V881"/><path d="M1385.1,870 V881"/><path d="M1568.2,870 V881"/><path d="M1751.3,870 V881"/><path d="M1934.4,870 V881"/><path d="M2117.5,870 V881"/><path d="M2297.2,70 H2308"/><path d="M2297.2,170 H2308"/><path d="M2297.2,270 H2308"/><path d="M2297.2,370 H2308"/><path d="M2297.2,470 H2308"/><path d="M2297.2,570 H2308"/><path d="M2297.2,670 H2308"/><path d="M2297.2,770 H2308"/><path d="M2297.2,870 H2308"/></g>
<g font-family="'Liberation Sans', sans-serif" fill="#3d5360"><text id="t0" font-size="29.2" transform="translate(69.07,879.00) scale(1.0593,1)">0</text><text id="t1" font-size="29.2" transform="translate(14.78,800.70) scale(0.9786,1)">1 000</text><text id="t2" font-size="29.2" transform="translate(12.15,722.40) scale(1.0145,1)">2 000</text><text id="t3" font-size="29.2" transform="translate(12.28,644.10) scale(1.0125,1)">3 000</text><text id="t4" font-size="29.2" transform="translate(12.89,565.80) scale(1.0035,1)">4 000</text><text id="t5" font-size="29.2" transform="translate(12.11,487.50) scale(1.0159,1)">5 000</text><text id="t6" font-size="29.2" transform="translate(12.09,409.20) scale(1.0143,1)">6 000</text><text id="t7" font-size="29.2" transform="translate(12.13,330.90) scale(1.0137,1)">7 000</text><text id="t8" font-size="29.2" transform="translate(12.33,252.60) scale(1.0114,1)">8 000</text><text id="t9" font-size="29.2" transform="translate(12.17,174.30) scale(1.0142,1)">9 000</text><text id="t10" font-size="29.2" transform="translate(-1.39,96.00) scale(0.9810,1)">10 000</text><text id="t11" font-size="29.2" transform="translate(249.81,907.00) scale(1.0072,1)">02:00</text><text id="t12" font-size="29.2" transform="translate(432.98,907.00) scale(1.0079,1)">04:00</text><text id="t13" font-size="29.2" transform="translate(616.11,907.00) scale(1.0035,1)">06:00</text><text id="t14" font-size="29.2" transform="translate(799.09,907.00) scale(1.0063,1)">08:00</text><text id="t15" font-size="29.2" transform="translate(982.63,907.00) scale(0.9841,1)">10:00</text><text id="t16" font-size="29.2" transform="translate(1165.56,907.00) scale(0.9837,1)">12:00</text><text id="t17" font-size="29.2" transform="translate(1348.79,907.00) scale(0.9814,1)">14:00</text><text id="t18" font-size="29.2" transform="translate(1531.96,907.00) scale(0.9808,1)">16:00</text><text id="t19" font-size="29.2" transform="translate(1715.10,907.00) scale(0.9792,1)">18:00</text><text id="t20" font-size="29.2" transform="translate(1897.39,907.00) scale(1.0105,1)">20:00</text><text id="t21" font-size="29.2" transform="translate(2080.48,907.00) scale(1.0105,1)">22:00</text><text id="t22" font-size="29.2" transform="translate(2313.09,79.00) scale(0.9907,1)">2.0</text><text id="t23" font-size="29.2" transform="translate(2312.55,179.00) scale(0.8922,1)">1.5</text><text id="t24" font-size="29.2" transform="translate(2312.43,279.00) scale(0.8925,1)">1.0</text><text id="t25" font-size="29.2" transform="translate(2313.49,379.00) scale(0.9841,1)">0.5</text><text id="t26" font-size="29.2" transform="translate(2313.29,479.00) scale(0.9916,1)">0.0</text><text id="t27" font-size="29.2" transform="translate(2314.73,579.00) scale(0.9526,1)">-0.5</text><text id="t28" font-size="29.2" transform="translate(2315.01,679.00) scale(0.8198,1)">-1.0</text><text id="t29" font-size="29.2" transform="translate(2314.96,779.00) scale(0.8266,1)">-1.5</text><text id="t30" font-size="29.2" transform="translate(2314.73,879.00) scale(0.9524,1)">-2.0</text><text id="t31" font-size="20.0" transform="translate(85.26,39.00) scale(1.0208,1)">MW</text><text id="t32" font-size="20.0" transform="translate(2258.15,39.00) scale(1.0337,1)">€ / MWh</text></g>
</svg>
<div class="vsep" style="left:454px"></div><div class="vsep" style="left:950px"></div><div class="vsep" style="left:1446px"></div><div class="vsep" style="left:1942px"></div><div class="hsep"></div><div class="hsep" style="top:989px;height:2px"></div>
<div class="ico" style="left:10px;top:1147px;background:#257257"><svg width="56" height="56" viewBox="0 0 56 56"><path d="M10,10 V43.8 H48" fill="none" stroke="#f8f9fb" stroke-width="4.2"/><path d="M11.6,43.2 L23.9,23 L36.6,30 L46.3,13.8" fill="none" stroke="#f8f9fb" stroke-width="4.2"/></svg></div>
<div class="info" style="left:408.1px;top:1019px"><svg width="34" height="34" viewBox="0 0 34 34"><circle cx="17" cy="17" r="13.7" fill="none" stroke="#d4dce4" stroke-width="2.7"/><rect x="15.2" y="15" width="3.2" height="8.9" fill="#d4dce4"/><circle cx="16.8" cy="12.1" r="1.9" fill="#d4dce4"/></svg></div>
<div class="ico" style="left:506.1px;top:1147px;background:#dcc81e"><svg width="56" height="56" viewBox="0 0 56 56"><polyline points="7,26 21.5,40.5 49.1,13.1" fill="none" stroke="#f8f9fb" stroke-width="6.1"/></svg></div>
<div class="info" style="left:904.2px;top:1019px"><svg width="34" height="34" viewBox="0 0 34 34"><circle cx="17" cy="17" r="13.7" fill="none" stroke="#d4dce4" stroke-width="2.7"/><rect x="15.2" y="15" width="3.2" height="8.9" fill="#d4dce4"/><circle cx="16.8" cy="12.1" r="1.9" fill="#d4dce4"/></svg></div>
<div class="ico" style="left:1002.2px;top:1147px;background:#6c8390"><svg width="56" height="56" viewBox="0 0 56 56"><polyline points="7,26 21.5,40.5 49.1,13.1" fill="none" stroke="#f8f9fb" stroke-width="6.1"/></svg></div>
<div class="info" style="left:1400.3px;top:1019px"><svg width="34" height="34" viewBox="0 0 34 34"><circle cx="17" cy="17" r="13.7" fill="none" stroke="#d4dce4" stroke-width="2.7"/><rect x="15.2" y="15" width="3.2" height="8.9" fill="#d4dce4"/><circle cx="16.8" cy="12.1" r="1.9" fill="#d4dce4"/></svg></div>
<div class="ico" style="left:1498.3px;top:1147px;background:#d8dfe5"><svg width="56" height="56" viewBox="0 0 56 56"><polyline points="7,26 21.5,40.5 49.1,13.1" fill="none" stroke="#f8f9fb" stroke-width="6.1"/></svg></div>
<div class="info" style="left:1896.4px;top:1019px"><svg width="34" height="34" viewBox="0 0 34 34"><circle cx="17" cy="17" r="13.7" fill="none" stroke="#d4dce4" stroke-width="2.7"/><rect x="15.2" y="15" width="3.2" height="8.9" fill="#d4dce4"/><circle cx="16.8" cy="12.1" r="1.9" fill="#d4dce4"/></svg></div>
<div class="ico" style="left:1994.4px;top:1147px;background:#e9b4bd"><svg width="56" height="56" viewBox="0 0 56 56"><polyline points="7,26 21.5,40.5 49.1,13.1" fill="none" stroke="#f8f9fb" stroke-width="6.1"/></svg></div>
<div class="ico" style="left:10px;top:1403px;background:#d7101f"><svg width="56" height="56" viewBox="0 0 56 56"><polyline points="7,26 21.5,40.5 49.1,13.1" fill="none" stroke="#f8f9fb" stroke-width="6.1"/></svg></div>
<div class="info" style="left:408.1px;top:1275px"><svg width="34" height="34" viewBox="0 0 34 34"><circle cx="17" cy="17" r="13.7" fill="none" stroke="#d4dce4" stroke-width="2.7"/><rect x="15.2" y="15" width="3.2" height="8.9" fill="#d4dce4"/><circle cx="16.8" cy="12.1" r="1.9" fill="#d4dce4"/></svg></div>
<div class="ico" style="left:506.1px;top:1403px;background:#4d9d87"><svg width="56" height="56" viewBox="0 0 56 56"><polyline points="7,26 21.5,40.5 49.1,13.1" fill="none" stroke="#f8f9fb" stroke-width="6.1"/></svg></div>
<div class="info" style="left:904.2px;top:1275px"><svg width="34" height="34" viewBox="0 0 34 34"><circle cx="17" cy="17" r="13.7" fill="none" stroke="#d4dce4" stroke-width="2.7"/><rect x="15.2" y="15" width="3.2" height="8.9" fill="#d4dce4"/><circle cx="16.8" cy="12.1" r="1.9" fill="#d4dce4"/></svg></div>
<div class="ico" style="left:1002.2px;top:1403px;background:#fdec5f"><svg width="56" height="56" viewBox="0 0 56 56"><polyline points="7,26 21.5,40.5 49.1,13.1" fill="none" stroke="#3d5360" stroke-width="6.1"/></svg></div>
<div class="info" style="left:1400.3px;top:1275px"><svg width="34" height="34" viewBox="0 0 34 34"><circle cx="17" cy="17" r="13.7" fill="none" stroke="#d4dce4" stroke-width="2.7"/><rect x="15.2" y="15" width="3.2" height="8.9" fill="#d4dce4"/><circle cx="16.8" cy="12.1" r="1.9" fill="#d4dce4"/></svg></div>
<div class="ico" style="left:1498.3px;top:1403px;background:#85c8f7"><svg width="56" height="56" viewBox="0 0 56 56"><polyline points="7,26 21.5,40.5 49.1,13.1" fill="none" stroke="#3d5360" stroke-width="6.1"/></svg></div>
<div class="info" style="left:1896.4px;top:1275px"><svg width="34" height="34" viewBox="0 0 34 34"><circle cx="17" cy="17" r="13.7" fill="none" stroke="#d4dce4" stroke-width="2.7"/><rect x="15.2" y="15" width="3.2" height="8.9" fill="#d4dce4"/><circle cx="16.8" cy="12.1" r="1.9" fill="#d4dce4"/></svg></div>
<div class="ico" style="left:1994.4px;top:1403px;background:#b4c2cb"><svg width="56" height="56" viewBox="0 0 56 56"><polyline points="7,26 21.5,40.5 49.1,13.1" fill="none" stroke="#f8f9fb" stroke-width="6.1"/></svg></div>
<div id="t33" class="tx lbl" style="left:10.44px;top:1034.00px;transform:scaleX(0.9807)">Tuotanto</div>
<div id="t34" class="tx val" style="left:7.10px;top:1074.50px;transform:scaleX(0.9604)">10 166</div>
<div id="t35" class="tx unit" style="left:211.51px;top:1102.20px;transform:scaleX(1.0409)">MW</div>
<div id="t36" class="tx lbl" style="left:506.19px;top:1034.00px;transform:scaleX(0.9213)">Ydinvoima</div>
<div id="t37" class="tx val" style="left:505.81px;top:1074.50px;transform:scaleX(1.0067)">2 967</div>
<div id="t38" class="tx unit" style="left:681.80px;top:1102.20px;transform:scaleX(1.0301)">MW</div>
<div id="t39" class="tx lbl" style="left:1002.38px;top:1034.00px;transform:scaleX(0.9788)">Yhteistuotanto (teollisuus)</div>
<div id="t40" class="tx val" style="left:1000.09px;top:1074.50px;transform:scaleX(1.0492)">708</div>
<div id="t41" class="tx unit" style="left:1128.45px;top:1102.20px;transform:scaleX(1.0486)">MW</div>
<div id="t42" class="tx lbl" style="left:1497.37px;top:1034.00px;transform:scaleX(0.9775)">Yhteistuotanto (kaukolämpö)</div>
<div id="t43" class="tx val" style="left:1496.27px;top:1074.50px;transform:scaleX(0.8869)">181</div>
<div id="t44" class="tx unit" style="left:1609.96px;top:1102.20px;transform:scaleX(1.0416)">MW</div>
<div id="t45" class="tx lbl" style="left:1992.42px;top:1034.00px;transform:scaleX(1.0034)">Muu tuotanto</div>
<div id="t46" class="tx val" style="left:1993.04px;top:1074.50px;transform:scaleX(1.0393)">43</div>
<div id="t47" class="tx unit" style="left:2082.32px;top:1102.20px;transform:scaleX(1.0538)">MW</div>
<div id="t48" class="tx lbl" style="left:9.93px;top:1290.00px;transform:scaleX(0.9681)">Tehoreservi</div>
<div id="t49" class="tx val" style="left:8.75px;top:1330.50px;transform:scaleX(1.1431)">0</div>
<div id="t50" class="tx unit" style="left:62.76px;top:1358.20px;transform:scaleX(1.0359)">MW</div>
<div id="t51" class="tx lbl" style="left:506.48px;top:1290.00px;transform:scaleX(0.9271)">Tuulivoima</div>
<div id="t52" class="tx val" style="left:506.75px;top:1330.50px;transform:scaleX(1.0456)">4 448</div>
<div id="t53" class="tx unit" style="left:688.60px;top:1358.20px;transform:scaleX(1.0396)">MW</div>
<div id="t54" class="tx lbl" style="left:1002.03px;top:1290.00px;transform:scaleX(0.9537)">Aurinkovoima</div>
<div id="t55" class="tx val" style="left:999.30px;top:1330.50px;transform:scaleX(1.1885)">0</div>
<div id="t56" class="tx unit" style="left:1053.43px;top:1358.20px;transform:scaleX(1.0714)">MW</div>
<div id="t57" class="tx lbl" style="left:1498.40px;top:1290.00px;transform:scaleX(0.9398)">Vesivoima</div>
<div id="t58" class="tx val" style="left:1494.30px;top:1330.50px;transform:scaleX(0.9491)">1 816</div>
<div id="t59" class="tx unit" style="left:1661.14px;top:1358.20px;transform:scaleX(1.0583)">MW</div>
<div id="t60" class="tx lbl" style="left:1995.13px;top:1290.00px;transform:scaleX(0.9678)">Tuotantoennuste</div>
<div id="t61" class="tx val" style="left:1993.60px;top:1328.00px;transform:scaleX(1.2296)">-</div>
<div id="t62" class="tx unit" style="left:2035.12px;top:1358.20px;transform:scaleX(1.0364)">MW</div>
</body></html>
